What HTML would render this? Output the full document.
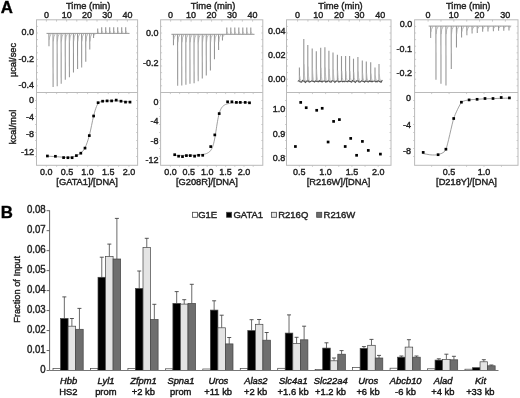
<!DOCTYPE html>
<html><head><meta charset="utf-8"><style>
html,body{margin:0;padding:0;background:#fff;}
svg{display:block;font-family:"Liberation Sans", sans-serif;filter:blur(0.3px);}
text{stroke:#222;stroke-width:0.4px;paint-order:stroke;}
</style></head><body>
<svg width="520" height="398" viewBox="0 0 520 398">
<rect width="520" height="398" fill="#fff"/>
<text transform="translate(0.80,13.30) scale(1,1.03)" font-size="16.8" text-anchor="start" font-weight="bold" font-style="normal" fill="#000" >A</text>
<rect x="36.50" y="19.80" width="101.10" height="145.50" fill="none" stroke="#bababa" stroke-width="1"/>
<line x1="36.50" y1="92.50" x2="137.60" y2="92.50" stroke="#bababa" stroke-width="1"/>
<line x1="46.40" y1="19.80" x2="46.40" y2="21.60" stroke="#bababa" stroke-width="0.8"/>
<line x1="56.52" y1="19.80" x2="56.52" y2="21.60" stroke="#bababa" stroke-width="0.8"/>
<line x1="66.65" y1="19.80" x2="66.65" y2="21.60" stroke="#bababa" stroke-width="0.8"/>
<line x1="76.78" y1="19.80" x2="76.78" y2="21.60" stroke="#bababa" stroke-width="0.8"/>
<line x1="86.90" y1="19.80" x2="86.90" y2="21.60" stroke="#bababa" stroke-width="0.8"/>
<line x1="97.03" y1="19.80" x2="97.03" y2="21.60" stroke="#bababa" stroke-width="0.8"/>
<line x1="107.15" y1="19.80" x2="107.15" y2="21.60" stroke="#bababa" stroke-width="0.8"/>
<line x1="117.28" y1="19.80" x2="117.28" y2="21.60" stroke="#bababa" stroke-width="0.8"/>
<line x1="127.40" y1="19.80" x2="127.40" y2="21.60" stroke="#bababa" stroke-width="0.8"/>
<text transform="translate(46.40,18.10) scale(1,1.05)" font-size="9.0" text-anchor="middle" font-weight="normal" font-style="normal" fill="#222" >0</text>
<text transform="translate(66.65,18.10) scale(1,1.05)" font-size="9.0" text-anchor="middle" font-weight="normal" font-style="normal" fill="#222" >10</text>
<text transform="translate(86.90,18.10) scale(1,1.05)" font-size="9.0" text-anchor="middle" font-weight="normal" font-style="normal" fill="#222" >20</text>
<text transform="translate(107.15,18.10) scale(1,1.05)" font-size="9.0" text-anchor="middle" font-weight="normal" font-style="normal" fill="#222" >30</text>
<text transform="translate(127.40,18.10) scale(1,1.05)" font-size="9.0" text-anchor="middle" font-weight="normal" font-style="normal" fill="#222" >40</text>
<text transform="translate(88.20,8.50) scale(1,1.05)" font-size="9.4" text-anchor="middle" font-weight="normal" font-style="normal" fill="#222" >Time (min)</text>
<line x1="36.50" y1="26.40" x2="38.00" y2="26.40" stroke="#bababa" stroke-width="0.7"/>
<line x1="136.10" y1="26.40" x2="137.60" y2="26.40" stroke="#bababa" stroke-width="0.7"/>
<line x1="36.50" y1="33.00" x2="38.00" y2="33.00" stroke="#bababa" stroke-width="0.7"/>
<line x1="136.10" y1="33.00" x2="137.60" y2="33.00" stroke="#bababa" stroke-width="0.7"/>
<line x1="36.50" y1="39.60" x2="38.00" y2="39.60" stroke="#bababa" stroke-width="0.7"/>
<line x1="136.10" y1="39.60" x2="137.60" y2="39.60" stroke="#bababa" stroke-width="0.7"/>
<line x1="36.50" y1="46.20" x2="38.00" y2="46.20" stroke="#bababa" stroke-width="0.7"/>
<line x1="136.10" y1="46.20" x2="137.60" y2="46.20" stroke="#bababa" stroke-width="0.7"/>
<line x1="36.50" y1="52.80" x2="38.00" y2="52.80" stroke="#bababa" stroke-width="0.7"/>
<line x1="136.10" y1="52.80" x2="137.60" y2="52.80" stroke="#bababa" stroke-width="0.7"/>
<line x1="36.50" y1="59.40" x2="38.00" y2="59.40" stroke="#bababa" stroke-width="0.7"/>
<line x1="136.10" y1="59.40" x2="137.60" y2="59.40" stroke="#bababa" stroke-width="0.7"/>
<line x1="36.50" y1="66.00" x2="38.00" y2="66.00" stroke="#bababa" stroke-width="0.7"/>
<line x1="136.10" y1="66.00" x2="137.60" y2="66.00" stroke="#bababa" stroke-width="0.7"/>
<line x1="36.50" y1="72.60" x2="38.00" y2="72.60" stroke="#bababa" stroke-width="0.7"/>
<line x1="136.10" y1="72.60" x2="137.60" y2="72.60" stroke="#bababa" stroke-width="0.7"/>
<line x1="36.50" y1="79.20" x2="38.00" y2="79.20" stroke="#bababa" stroke-width="0.7"/>
<line x1="136.10" y1="79.20" x2="137.60" y2="79.20" stroke="#bababa" stroke-width="0.7"/>
<line x1="36.50" y1="85.80" x2="38.00" y2="85.80" stroke="#bababa" stroke-width="0.7"/>
<line x1="136.10" y1="85.80" x2="137.60" y2="85.80" stroke="#bababa" stroke-width="0.7"/>
<line x1="35.00" y1="100.50" x2="36.50" y2="100.50" stroke="#bababa" stroke-width="0.7"/>
<line x1="136.10" y1="100.50" x2="137.60" y2="100.50" stroke="#bababa" stroke-width="0.7"/>
<line x1="35.00" y1="108.50" x2="36.50" y2="108.50" stroke="#bababa" stroke-width="0.7"/>
<line x1="136.10" y1="108.50" x2="137.60" y2="108.50" stroke="#bababa" stroke-width="0.7"/>
<line x1="35.00" y1="116.50" x2="36.50" y2="116.50" stroke="#bababa" stroke-width="0.7"/>
<line x1="136.10" y1="116.50" x2="137.60" y2="116.50" stroke="#bababa" stroke-width="0.7"/>
<line x1="35.00" y1="124.50" x2="36.50" y2="124.50" stroke="#bababa" stroke-width="0.7"/>
<line x1="136.10" y1="124.50" x2="137.60" y2="124.50" stroke="#bababa" stroke-width="0.7"/>
<line x1="35.00" y1="132.50" x2="36.50" y2="132.50" stroke="#bababa" stroke-width="0.7"/>
<line x1="136.10" y1="132.50" x2="137.60" y2="132.50" stroke="#bababa" stroke-width="0.7"/>
<line x1="35.00" y1="140.50" x2="36.50" y2="140.50" stroke="#bababa" stroke-width="0.7"/>
<line x1="136.10" y1="140.50" x2="137.60" y2="140.50" stroke="#bababa" stroke-width="0.7"/>
<line x1="35.00" y1="148.50" x2="36.50" y2="148.50" stroke="#bababa" stroke-width="0.7"/>
<line x1="136.10" y1="148.50" x2="137.60" y2="148.50" stroke="#bababa" stroke-width="0.7"/>
<line x1="35.00" y1="156.50" x2="36.50" y2="156.50" stroke="#bababa" stroke-width="0.7"/>
<line x1="136.10" y1="156.50" x2="137.60" y2="156.50" stroke="#bababa" stroke-width="0.7"/>
<rect x="160.60" y="19.80" width="102.20" height="145.50" fill="none" stroke="#bababa" stroke-width="1"/>
<line x1="160.60" y1="92.50" x2="262.80" y2="92.50" stroke="#bababa" stroke-width="1"/>
<line x1="170.60" y1="19.80" x2="170.60" y2="21.60" stroke="#bababa" stroke-width="0.8"/>
<line x1="180.85" y1="19.80" x2="180.85" y2="21.60" stroke="#bababa" stroke-width="0.8"/>
<line x1="191.10" y1="19.80" x2="191.10" y2="21.60" stroke="#bababa" stroke-width="0.8"/>
<line x1="201.35" y1="19.80" x2="201.35" y2="21.60" stroke="#bababa" stroke-width="0.8"/>
<line x1="211.60" y1="19.80" x2="211.60" y2="21.60" stroke="#bababa" stroke-width="0.8"/>
<line x1="221.85" y1="19.80" x2="221.85" y2="21.60" stroke="#bababa" stroke-width="0.8"/>
<line x1="232.10" y1="19.80" x2="232.10" y2="21.60" stroke="#bababa" stroke-width="0.8"/>
<line x1="242.35" y1="19.80" x2="242.35" y2="21.60" stroke="#bababa" stroke-width="0.8"/>
<line x1="252.60" y1="19.80" x2="252.60" y2="21.60" stroke="#bababa" stroke-width="0.8"/>
<text transform="translate(170.60,18.10) scale(1,1.05)" font-size="9.0" text-anchor="middle" font-weight="normal" font-style="normal" fill="#222" >0</text>
<text transform="translate(191.10,18.10) scale(1,1.05)" font-size="9.0" text-anchor="middle" font-weight="normal" font-style="normal" fill="#222" >10</text>
<text transform="translate(211.60,18.10) scale(1,1.05)" font-size="9.0" text-anchor="middle" font-weight="normal" font-style="normal" fill="#222" >20</text>
<text transform="translate(232.10,18.10) scale(1,1.05)" font-size="9.0" text-anchor="middle" font-weight="normal" font-style="normal" fill="#222" >30</text>
<text transform="translate(252.60,18.10) scale(1,1.05)" font-size="9.0" text-anchor="middle" font-weight="normal" font-style="normal" fill="#222" >40</text>
<text transform="translate(213.10,8.50) scale(1,1.05)" font-size="9.4" text-anchor="middle" font-weight="normal" font-style="normal" fill="#222" >Time (min)</text>
<line x1="160.60" y1="26.40" x2="162.10" y2="26.40" stroke="#bababa" stroke-width="0.7"/>
<line x1="261.30" y1="26.40" x2="262.80" y2="26.40" stroke="#bababa" stroke-width="0.7"/>
<line x1="160.60" y1="33.00" x2="162.10" y2="33.00" stroke="#bababa" stroke-width="0.7"/>
<line x1="261.30" y1="33.00" x2="262.80" y2="33.00" stroke="#bababa" stroke-width="0.7"/>
<line x1="160.60" y1="39.60" x2="162.10" y2="39.60" stroke="#bababa" stroke-width="0.7"/>
<line x1="261.30" y1="39.60" x2="262.80" y2="39.60" stroke="#bababa" stroke-width="0.7"/>
<line x1="160.60" y1="46.20" x2="162.10" y2="46.20" stroke="#bababa" stroke-width="0.7"/>
<line x1="261.30" y1="46.20" x2="262.80" y2="46.20" stroke="#bababa" stroke-width="0.7"/>
<line x1="160.60" y1="52.80" x2="162.10" y2="52.80" stroke="#bababa" stroke-width="0.7"/>
<line x1="261.30" y1="52.80" x2="262.80" y2="52.80" stroke="#bababa" stroke-width="0.7"/>
<line x1="160.60" y1="59.40" x2="162.10" y2="59.40" stroke="#bababa" stroke-width="0.7"/>
<line x1="261.30" y1="59.40" x2="262.80" y2="59.40" stroke="#bababa" stroke-width="0.7"/>
<line x1="160.60" y1="66.00" x2="162.10" y2="66.00" stroke="#bababa" stroke-width="0.7"/>
<line x1="261.30" y1="66.00" x2="262.80" y2="66.00" stroke="#bababa" stroke-width="0.7"/>
<line x1="160.60" y1="72.60" x2="162.10" y2="72.60" stroke="#bababa" stroke-width="0.7"/>
<line x1="261.30" y1="72.60" x2="262.80" y2="72.60" stroke="#bababa" stroke-width="0.7"/>
<line x1="160.60" y1="79.20" x2="162.10" y2="79.20" stroke="#bababa" stroke-width="0.7"/>
<line x1="261.30" y1="79.20" x2="262.80" y2="79.20" stroke="#bababa" stroke-width="0.7"/>
<line x1="160.60" y1="85.80" x2="162.10" y2="85.80" stroke="#bababa" stroke-width="0.7"/>
<line x1="261.30" y1="85.80" x2="262.80" y2="85.80" stroke="#bababa" stroke-width="0.7"/>
<line x1="159.10" y1="100.50" x2="160.60" y2="100.50" stroke="#bababa" stroke-width="0.7"/>
<line x1="261.30" y1="100.50" x2="262.80" y2="100.50" stroke="#bababa" stroke-width="0.7"/>
<line x1="159.10" y1="108.50" x2="160.60" y2="108.50" stroke="#bababa" stroke-width="0.7"/>
<line x1="261.30" y1="108.50" x2="262.80" y2="108.50" stroke="#bababa" stroke-width="0.7"/>
<line x1="159.10" y1="116.50" x2="160.60" y2="116.50" stroke="#bababa" stroke-width="0.7"/>
<line x1="261.30" y1="116.50" x2="262.80" y2="116.50" stroke="#bababa" stroke-width="0.7"/>
<line x1="159.10" y1="124.50" x2="160.60" y2="124.50" stroke="#bababa" stroke-width="0.7"/>
<line x1="261.30" y1="124.50" x2="262.80" y2="124.50" stroke="#bababa" stroke-width="0.7"/>
<line x1="159.10" y1="132.50" x2="160.60" y2="132.50" stroke="#bababa" stroke-width="0.7"/>
<line x1="261.30" y1="132.50" x2="262.80" y2="132.50" stroke="#bababa" stroke-width="0.7"/>
<line x1="159.10" y1="140.50" x2="160.60" y2="140.50" stroke="#bababa" stroke-width="0.7"/>
<line x1="261.30" y1="140.50" x2="262.80" y2="140.50" stroke="#bababa" stroke-width="0.7"/>
<line x1="159.10" y1="148.50" x2="160.60" y2="148.50" stroke="#bababa" stroke-width="0.7"/>
<line x1="261.30" y1="148.50" x2="262.80" y2="148.50" stroke="#bababa" stroke-width="0.7"/>
<line x1="159.10" y1="156.50" x2="160.60" y2="156.50" stroke="#bababa" stroke-width="0.7"/>
<line x1="261.30" y1="156.50" x2="262.80" y2="156.50" stroke="#bababa" stroke-width="0.7"/>
<rect x="286.50" y="19.80" width="104.50" height="145.50" fill="none" stroke="#bababa" stroke-width="1"/>
<line x1="286.50" y1="92.50" x2="391.00" y2="92.50" stroke="#bababa" stroke-width="1"/>
<line x1="297.60" y1="19.80" x2="297.60" y2="21.60" stroke="#bababa" stroke-width="0.8"/>
<line x1="307.93" y1="19.80" x2="307.93" y2="21.60" stroke="#bababa" stroke-width="0.8"/>
<line x1="318.25" y1="19.80" x2="318.25" y2="21.60" stroke="#bababa" stroke-width="0.8"/>
<line x1="328.58" y1="19.80" x2="328.58" y2="21.60" stroke="#bababa" stroke-width="0.8"/>
<line x1="338.90" y1="19.80" x2="338.90" y2="21.60" stroke="#bababa" stroke-width="0.8"/>
<line x1="349.23" y1="19.80" x2="349.23" y2="21.60" stroke="#bababa" stroke-width="0.8"/>
<line x1="359.55" y1="19.80" x2="359.55" y2="21.60" stroke="#bababa" stroke-width="0.8"/>
<line x1="369.88" y1="19.80" x2="369.88" y2="21.60" stroke="#bababa" stroke-width="0.8"/>
<line x1="380.20" y1="19.80" x2="380.20" y2="21.60" stroke="#bababa" stroke-width="0.8"/>
<text transform="translate(297.60,18.10) scale(1,1.05)" font-size="9.0" text-anchor="middle" font-weight="normal" font-style="normal" fill="#222" >0</text>
<text transform="translate(318.25,18.10) scale(1,1.05)" font-size="9.0" text-anchor="middle" font-weight="normal" font-style="normal" fill="#222" >10</text>
<text transform="translate(338.90,18.10) scale(1,1.05)" font-size="9.0" text-anchor="middle" font-weight="normal" font-style="normal" fill="#222" >20</text>
<text transform="translate(359.55,18.10) scale(1,1.05)" font-size="9.0" text-anchor="middle" font-weight="normal" font-style="normal" fill="#222" >30</text>
<text transform="translate(380.20,18.10) scale(1,1.05)" font-size="9.0" text-anchor="middle" font-weight="normal" font-style="normal" fill="#222" >40</text>
<text transform="translate(340.50,8.50) scale(1,1.05)" font-size="9.4" text-anchor="middle" font-weight="normal" font-style="normal" fill="#222" >Time (min)</text>
<line x1="286.50" y1="26.40" x2="288.00" y2="26.40" stroke="#bababa" stroke-width="0.7"/>
<line x1="389.50" y1="26.40" x2="391.00" y2="26.40" stroke="#bababa" stroke-width="0.7"/>
<line x1="286.50" y1="33.00" x2="288.00" y2="33.00" stroke="#bababa" stroke-width="0.7"/>
<line x1="389.50" y1="33.00" x2="391.00" y2="33.00" stroke="#bababa" stroke-width="0.7"/>
<line x1="286.50" y1="39.60" x2="288.00" y2="39.60" stroke="#bababa" stroke-width="0.7"/>
<line x1="389.50" y1="39.60" x2="391.00" y2="39.60" stroke="#bababa" stroke-width="0.7"/>
<line x1="286.50" y1="46.20" x2="288.00" y2="46.20" stroke="#bababa" stroke-width="0.7"/>
<line x1="389.50" y1="46.20" x2="391.00" y2="46.20" stroke="#bababa" stroke-width="0.7"/>
<line x1="286.50" y1="52.80" x2="288.00" y2="52.80" stroke="#bababa" stroke-width="0.7"/>
<line x1="389.50" y1="52.80" x2="391.00" y2="52.80" stroke="#bababa" stroke-width="0.7"/>
<line x1="286.50" y1="59.40" x2="288.00" y2="59.40" stroke="#bababa" stroke-width="0.7"/>
<line x1="389.50" y1="59.40" x2="391.00" y2="59.40" stroke="#bababa" stroke-width="0.7"/>
<line x1="286.50" y1="66.00" x2="288.00" y2="66.00" stroke="#bababa" stroke-width="0.7"/>
<line x1="389.50" y1="66.00" x2="391.00" y2="66.00" stroke="#bababa" stroke-width="0.7"/>
<line x1="286.50" y1="72.60" x2="288.00" y2="72.60" stroke="#bababa" stroke-width="0.7"/>
<line x1="389.50" y1="72.60" x2="391.00" y2="72.60" stroke="#bababa" stroke-width="0.7"/>
<line x1="286.50" y1="79.20" x2="288.00" y2="79.20" stroke="#bababa" stroke-width="0.7"/>
<line x1="389.50" y1="79.20" x2="391.00" y2="79.20" stroke="#bababa" stroke-width="0.7"/>
<line x1="286.50" y1="85.80" x2="288.00" y2="85.80" stroke="#bababa" stroke-width="0.7"/>
<line x1="389.50" y1="85.80" x2="391.00" y2="85.80" stroke="#bababa" stroke-width="0.7"/>
<line x1="285.00" y1="100.50" x2="286.50" y2="100.50" stroke="#bababa" stroke-width="0.7"/>
<line x1="389.50" y1="100.50" x2="391.00" y2="100.50" stroke="#bababa" stroke-width="0.7"/>
<line x1="285.00" y1="108.50" x2="286.50" y2="108.50" stroke="#bababa" stroke-width="0.7"/>
<line x1="389.50" y1="108.50" x2="391.00" y2="108.50" stroke="#bababa" stroke-width="0.7"/>
<line x1="285.00" y1="116.50" x2="286.50" y2="116.50" stroke="#bababa" stroke-width="0.7"/>
<line x1="389.50" y1="116.50" x2="391.00" y2="116.50" stroke="#bababa" stroke-width="0.7"/>
<line x1="285.00" y1="124.50" x2="286.50" y2="124.50" stroke="#bababa" stroke-width="0.7"/>
<line x1="389.50" y1="124.50" x2="391.00" y2="124.50" stroke="#bababa" stroke-width="0.7"/>
<line x1="285.00" y1="132.50" x2="286.50" y2="132.50" stroke="#bababa" stroke-width="0.7"/>
<line x1="389.50" y1="132.50" x2="391.00" y2="132.50" stroke="#bababa" stroke-width="0.7"/>
<line x1="285.00" y1="140.50" x2="286.50" y2="140.50" stroke="#bababa" stroke-width="0.7"/>
<line x1="389.50" y1="140.50" x2="391.00" y2="140.50" stroke="#bababa" stroke-width="0.7"/>
<line x1="285.00" y1="148.50" x2="286.50" y2="148.50" stroke="#bababa" stroke-width="0.7"/>
<line x1="389.50" y1="148.50" x2="391.00" y2="148.50" stroke="#bababa" stroke-width="0.7"/>
<line x1="285.00" y1="156.50" x2="286.50" y2="156.50" stroke="#bababa" stroke-width="0.7"/>
<line x1="389.50" y1="156.50" x2="391.00" y2="156.50" stroke="#bababa" stroke-width="0.7"/>
<rect x="414.60" y="19.80" width="103.40" height="145.50" fill="none" stroke="#bababa" stroke-width="1"/>
<line x1="414.60" y1="92.50" x2="518.00" y2="92.50" stroke="#bababa" stroke-width="1"/>
<line x1="428.10" y1="19.80" x2="428.10" y2="21.60" stroke="#bababa" stroke-width="0.8"/>
<line x1="440.98" y1="19.80" x2="440.98" y2="21.60" stroke="#bababa" stroke-width="0.8"/>
<line x1="453.85" y1="19.80" x2="453.85" y2="21.60" stroke="#bababa" stroke-width="0.8"/>
<line x1="466.73" y1="19.80" x2="466.73" y2="21.60" stroke="#bababa" stroke-width="0.8"/>
<line x1="479.60" y1="19.80" x2="479.60" y2="21.60" stroke="#bababa" stroke-width="0.8"/>
<line x1="492.48" y1="19.80" x2="492.48" y2="21.60" stroke="#bababa" stroke-width="0.8"/>
<line x1="505.35" y1="19.80" x2="505.35" y2="21.60" stroke="#bababa" stroke-width="0.8"/>
<text transform="translate(428.10,18.10) scale(1,1.05)" font-size="9.0" text-anchor="middle" font-weight="normal" font-style="normal" fill="#222" >0</text>
<text transform="translate(453.85,18.10) scale(1,1.05)" font-size="9.0" text-anchor="middle" font-weight="normal" font-style="normal" fill="#222" >10</text>
<text transform="translate(479.60,18.10) scale(1,1.05)" font-size="9.0" text-anchor="middle" font-weight="normal" font-style="normal" fill="#222" >20</text>
<text transform="translate(505.35,18.10) scale(1,1.05)" font-size="9.0" text-anchor="middle" font-weight="normal" font-style="normal" fill="#222" >30</text>
<text transform="translate(468.23,8.50) scale(1,1.05)" font-size="9.4" text-anchor="middle" font-weight="normal" font-style="normal" fill="#222" >Time (min)</text>
<line x1="414.60" y1="26.40" x2="416.10" y2="26.40" stroke="#bababa" stroke-width="0.7"/>
<line x1="516.50" y1="26.40" x2="518.00" y2="26.40" stroke="#bababa" stroke-width="0.7"/>
<line x1="414.60" y1="33.00" x2="416.10" y2="33.00" stroke="#bababa" stroke-width="0.7"/>
<line x1="516.50" y1="33.00" x2="518.00" y2="33.00" stroke="#bababa" stroke-width="0.7"/>
<line x1="414.60" y1="39.60" x2="416.10" y2="39.60" stroke="#bababa" stroke-width="0.7"/>
<line x1="516.50" y1="39.60" x2="518.00" y2="39.60" stroke="#bababa" stroke-width="0.7"/>
<line x1="414.60" y1="46.20" x2="416.10" y2="46.20" stroke="#bababa" stroke-width="0.7"/>
<line x1="516.50" y1="46.20" x2="518.00" y2="46.20" stroke="#bababa" stroke-width="0.7"/>
<line x1="414.60" y1="52.80" x2="416.10" y2="52.80" stroke="#bababa" stroke-width="0.7"/>
<line x1="516.50" y1="52.80" x2="518.00" y2="52.80" stroke="#bababa" stroke-width="0.7"/>
<line x1="414.60" y1="59.40" x2="416.10" y2="59.40" stroke="#bababa" stroke-width="0.7"/>
<line x1="516.50" y1="59.40" x2="518.00" y2="59.40" stroke="#bababa" stroke-width="0.7"/>
<line x1="414.60" y1="66.00" x2="416.10" y2="66.00" stroke="#bababa" stroke-width="0.7"/>
<line x1="516.50" y1="66.00" x2="518.00" y2="66.00" stroke="#bababa" stroke-width="0.7"/>
<line x1="414.60" y1="72.60" x2="416.10" y2="72.60" stroke="#bababa" stroke-width="0.7"/>
<line x1="516.50" y1="72.60" x2="518.00" y2="72.60" stroke="#bababa" stroke-width="0.7"/>
<line x1="414.60" y1="79.20" x2="416.10" y2="79.20" stroke="#bababa" stroke-width="0.7"/>
<line x1="516.50" y1="79.20" x2="518.00" y2="79.20" stroke="#bababa" stroke-width="0.7"/>
<line x1="414.60" y1="85.80" x2="416.10" y2="85.80" stroke="#bababa" stroke-width="0.7"/>
<line x1="516.50" y1="85.80" x2="518.00" y2="85.80" stroke="#bababa" stroke-width="0.7"/>
<line x1="413.10" y1="100.50" x2="414.60" y2="100.50" stroke="#bababa" stroke-width="0.7"/>
<line x1="516.50" y1="100.50" x2="518.00" y2="100.50" stroke="#bababa" stroke-width="0.7"/>
<line x1="413.10" y1="108.50" x2="414.60" y2="108.50" stroke="#bababa" stroke-width="0.7"/>
<line x1="516.50" y1="108.50" x2="518.00" y2="108.50" stroke="#bababa" stroke-width="0.7"/>
<line x1="413.10" y1="116.50" x2="414.60" y2="116.50" stroke="#bababa" stroke-width="0.7"/>
<line x1="516.50" y1="116.50" x2="518.00" y2="116.50" stroke="#bababa" stroke-width="0.7"/>
<line x1="413.10" y1="124.50" x2="414.60" y2="124.50" stroke="#bababa" stroke-width="0.7"/>
<line x1="516.50" y1="124.50" x2="518.00" y2="124.50" stroke="#bababa" stroke-width="0.7"/>
<line x1="413.10" y1="132.50" x2="414.60" y2="132.50" stroke="#bababa" stroke-width="0.7"/>
<line x1="516.50" y1="132.50" x2="518.00" y2="132.50" stroke="#bababa" stroke-width="0.7"/>
<line x1="413.10" y1="140.50" x2="414.60" y2="140.50" stroke="#bababa" stroke-width="0.7"/>
<line x1="516.50" y1="140.50" x2="518.00" y2="140.50" stroke="#bababa" stroke-width="0.7"/>
<line x1="413.10" y1="148.50" x2="414.60" y2="148.50" stroke="#bababa" stroke-width="0.7"/>
<line x1="516.50" y1="148.50" x2="518.00" y2="148.50" stroke="#bababa" stroke-width="0.7"/>
<line x1="413.10" y1="156.50" x2="414.60" y2="156.50" stroke="#bababa" stroke-width="0.7"/>
<line x1="516.50" y1="156.50" x2="518.00" y2="156.50" stroke="#bababa" stroke-width="0.7"/>
<text transform="translate(34.00,35.10) scale(1,1.05)" font-size="9.0" text-anchor="end" font-weight="normal" font-style="normal" fill="#222" >0.0</text>
<text transform="translate(34.00,61.50) scale(1,1.05)" font-size="9.0" text-anchor="end" font-weight="normal" font-style="normal" fill="#222" >-0.2</text>
<text transform="translate(34.00,87.50) scale(1,1.05)" font-size="9.0" text-anchor="end" font-weight="normal" font-style="normal" fill="#222" >-0.4</text>
<text transform="translate(34.00,102.70) scale(1,1.05)" font-size="9.0" text-anchor="end" font-weight="normal" font-style="normal" fill="#222" >0</text>
<text transform="translate(34.00,119.70) scale(1,1.05)" font-size="9.0" text-anchor="end" font-weight="normal" font-style="normal" fill="#222" >-4</text>
<text transform="translate(34.00,137.30) scale(1,1.05)" font-size="9.0" text-anchor="end" font-weight="normal" font-style="normal" fill="#222" >-8</text>
<text transform="translate(34.00,154.50) scale(1,1.05)" font-size="9.0" text-anchor="end" font-weight="normal" font-style="normal" fill="#222" >-12</text>
<text transform="translate(158.40,35.50) scale(1,1.05)" font-size="9.0" text-anchor="end" font-weight="normal" font-style="normal" fill="#222" >0.0</text>
<text transform="translate(158.40,65.70) scale(1,1.05)" font-size="9.0" text-anchor="end" font-weight="normal" font-style="normal" fill="#222" >-0.2</text>
<text transform="translate(158.40,104.80) scale(1,1.05)" font-size="9.0" text-anchor="end" font-weight="normal" font-style="normal" fill="#222" >0</text>
<text transform="translate(158.40,124.40) scale(1,1.05)" font-size="9.0" text-anchor="end" font-weight="normal" font-style="normal" fill="#222" >-4</text>
<text transform="translate(158.40,143.70) scale(1,1.05)" font-size="9.0" text-anchor="end" font-weight="normal" font-style="normal" fill="#222" >-8</text>
<text transform="translate(158.40,162.60) scale(1,1.05)" font-size="9.0" text-anchor="end" font-weight="normal" font-style="normal" fill="#222" >-12</text>
<text transform="translate(285.50,34.00) scale(1,1.05)" font-size="9.0" text-anchor="end" font-weight="normal" font-style="normal" fill="#222" >0.04</text>
<text transform="translate(285.50,58.00) scale(1,1.05)" font-size="9.0" text-anchor="end" font-weight="normal" font-style="normal" fill="#222" >0.02</text>
<text transform="translate(285.50,82.20) scale(1,1.05)" font-size="9.0" text-anchor="end" font-weight="normal" font-style="normal" fill="#222" >0.00</text>
<text transform="translate(285.30,112.00) scale(1,1.05)" font-size="9.0" text-anchor="end" font-weight="normal" font-style="normal" fill="#222" >1.0</text>
<text transform="translate(285.30,137.10) scale(1,1.05)" font-size="9.0" text-anchor="end" font-weight="normal" font-style="normal" fill="#222" >0.9</text>
<text transform="translate(285.30,160.90) scale(1,1.05)" font-size="9.0" text-anchor="end" font-weight="normal" font-style="normal" fill="#222" >0.8</text>
<text transform="translate(412.30,27.10) scale(1,1.05)" font-size="9.0" text-anchor="end" font-weight="normal" font-style="normal" fill="#222" >0.0</text>
<text transform="translate(412.00,52.20) scale(1,1.05)" font-size="9.0" text-anchor="end" font-weight="normal" font-style="normal" fill="#222" >-0.1</text>
<text transform="translate(412.00,76.00) scale(1,1.05)" font-size="9.0" text-anchor="end" font-weight="normal" font-style="normal" fill="#222" >-0.2</text>
<text transform="translate(411.10,100.70) scale(1,1.05)" font-size="9.0" text-anchor="end" font-weight="normal" font-style="normal" fill="#222" >0</text>
<text transform="translate(411.10,128.10) scale(1,1.05)" font-size="9.0" text-anchor="end" font-weight="normal" font-style="normal" fill="#222" >-4</text>
<text transform="translate(411.10,154.20) scale(1,1.05)" font-size="9.0" text-anchor="end" font-weight="normal" font-style="normal" fill="#222" >-8</text>
<text transform="translate(16.0,60.0) rotate(-90)" font-size="9.3" text-anchor="middle" fill="#222">µcal/sec</text>
<text transform="translate(16.0,127.0) rotate(-90)" font-size="9.5" text-anchor="middle" fill="#222">kcal/mol</text>
<text transform="translate(46.30,175.40) scale(1,1.05)" font-size="9.0" text-anchor="middle" font-weight="normal" font-style="normal" fill="#222" >0.0</text>
<text transform="translate(66.95,175.40) scale(1,1.05)" font-size="9.0" text-anchor="middle" font-weight="normal" font-style="normal" fill="#222" >0.5</text>
<text transform="translate(87.60,175.40) scale(1,1.05)" font-size="9.0" text-anchor="middle" font-weight="normal" font-style="normal" fill="#222" >1.0</text>
<text transform="translate(108.25,175.40) scale(1,1.05)" font-size="9.0" text-anchor="middle" font-weight="normal" font-style="normal" fill="#222" >1.5</text>
<text transform="translate(128.90,175.40) scale(1,1.05)" font-size="9.0" text-anchor="middle" font-weight="normal" font-style="normal" fill="#222" >2.0</text>
<text transform="translate(170.40,175.40) scale(1,1.05)" font-size="9.0" text-anchor="middle" font-weight="normal" font-style="normal" fill="#222" >0.0</text>
<text transform="translate(188.80,175.40) scale(1,1.05)" font-size="9.0" text-anchor="middle" font-weight="normal" font-style="normal" fill="#222" >0.5</text>
<text transform="translate(207.20,175.40) scale(1,1.05)" font-size="9.0" text-anchor="middle" font-weight="normal" font-style="normal" fill="#222" >1.0</text>
<text transform="translate(225.60,175.40) scale(1,1.05)" font-size="9.0" text-anchor="middle" font-weight="normal" font-style="normal" fill="#222" >1.5</text>
<text transform="translate(244.00,175.40) scale(1,1.05)" font-size="9.0" text-anchor="middle" font-weight="normal" font-style="normal" fill="#222" >2.0</text>
<text transform="translate(299.30,175.40) scale(1,1.05)" font-size="9.0" text-anchor="middle" font-weight="normal" font-style="normal" fill="#222" >0.5</text>
<text transform="translate(325.60,175.40) scale(1,1.05)" font-size="9.0" text-anchor="middle" font-weight="normal" font-style="normal" fill="#222" >1.0</text>
<text transform="translate(351.90,175.40) scale(1,1.05)" font-size="9.0" text-anchor="middle" font-weight="normal" font-style="normal" fill="#222" >1.5</text>
<text transform="translate(378.20,175.40) scale(1,1.05)" font-size="9.0" text-anchor="middle" font-weight="normal" font-style="normal" fill="#222" >2.0</text>
<text transform="translate(449.10,175.40) scale(1,1.05)" font-size="9.0" text-anchor="middle" font-weight="normal" font-style="normal" fill="#222" >0.5</text>
<text transform="translate(484.00,175.40) scale(1,1.05)" font-size="9.0" text-anchor="middle" font-weight="normal" font-style="normal" fill="#222" >1.0</text>
<line x1="46.30" y1="165.30" x2="46.30" y2="166.90" stroke="#bababa" stroke-width="0.7"/>
<line x1="46.30" y1="92.50" x2="46.30" y2="94.10" stroke="#bababa" stroke-width="0.7"/>
<line x1="56.62" y1="165.30" x2="56.62" y2="166.90" stroke="#bababa" stroke-width="0.7"/>
<line x1="56.62" y1="92.50" x2="56.62" y2="94.10" stroke="#bababa" stroke-width="0.7"/>
<line x1="66.95" y1="165.30" x2="66.95" y2="166.90" stroke="#bababa" stroke-width="0.7"/>
<line x1="66.95" y1="92.50" x2="66.95" y2="94.10" stroke="#bababa" stroke-width="0.7"/>
<line x1="77.27" y1="165.30" x2="77.27" y2="166.90" stroke="#bababa" stroke-width="0.7"/>
<line x1="77.27" y1="92.50" x2="77.27" y2="94.10" stroke="#bababa" stroke-width="0.7"/>
<line x1="87.60" y1="165.30" x2="87.60" y2="166.90" stroke="#bababa" stroke-width="0.7"/>
<line x1="87.60" y1="92.50" x2="87.60" y2="94.10" stroke="#bababa" stroke-width="0.7"/>
<line x1="97.92" y1="165.30" x2="97.92" y2="166.90" stroke="#bababa" stroke-width="0.7"/>
<line x1="97.92" y1="92.50" x2="97.92" y2="94.10" stroke="#bababa" stroke-width="0.7"/>
<line x1="108.25" y1="165.30" x2="108.25" y2="166.90" stroke="#bababa" stroke-width="0.7"/>
<line x1="108.25" y1="92.50" x2="108.25" y2="94.10" stroke="#bababa" stroke-width="0.7"/>
<line x1="118.57" y1="165.30" x2="118.57" y2="166.90" stroke="#bababa" stroke-width="0.7"/>
<line x1="118.57" y1="92.50" x2="118.57" y2="94.10" stroke="#bababa" stroke-width="0.7"/>
<line x1="128.90" y1="165.30" x2="128.90" y2="166.90" stroke="#bababa" stroke-width="0.7"/>
<line x1="128.90" y1="92.50" x2="128.90" y2="94.10" stroke="#bababa" stroke-width="0.7"/>
<line x1="170.40" y1="165.30" x2="170.40" y2="166.90" stroke="#bababa" stroke-width="0.7"/>
<line x1="170.40" y1="92.50" x2="170.40" y2="94.10" stroke="#bababa" stroke-width="0.7"/>
<line x1="179.60" y1="165.30" x2="179.60" y2="166.90" stroke="#bababa" stroke-width="0.7"/>
<line x1="179.60" y1="92.50" x2="179.60" y2="94.10" stroke="#bababa" stroke-width="0.7"/>
<line x1="188.80" y1="165.30" x2="188.80" y2="166.90" stroke="#bababa" stroke-width="0.7"/>
<line x1="188.80" y1="92.50" x2="188.80" y2="94.10" stroke="#bababa" stroke-width="0.7"/>
<line x1="198.00" y1="165.30" x2="198.00" y2="166.90" stroke="#bababa" stroke-width="0.7"/>
<line x1="198.00" y1="92.50" x2="198.00" y2="94.10" stroke="#bababa" stroke-width="0.7"/>
<line x1="207.20" y1="165.30" x2="207.20" y2="166.90" stroke="#bababa" stroke-width="0.7"/>
<line x1="207.20" y1="92.50" x2="207.20" y2="94.10" stroke="#bababa" stroke-width="0.7"/>
<line x1="216.40" y1="165.30" x2="216.40" y2="166.90" stroke="#bababa" stroke-width="0.7"/>
<line x1="216.40" y1="92.50" x2="216.40" y2="94.10" stroke="#bababa" stroke-width="0.7"/>
<line x1="225.60" y1="165.30" x2="225.60" y2="166.90" stroke="#bababa" stroke-width="0.7"/>
<line x1="225.60" y1="92.50" x2="225.60" y2="94.10" stroke="#bababa" stroke-width="0.7"/>
<line x1="234.80" y1="165.30" x2="234.80" y2="166.90" stroke="#bababa" stroke-width="0.7"/>
<line x1="234.80" y1="92.50" x2="234.80" y2="94.10" stroke="#bababa" stroke-width="0.7"/>
<line x1="244.00" y1="165.30" x2="244.00" y2="166.90" stroke="#bababa" stroke-width="0.7"/>
<line x1="244.00" y1="92.50" x2="244.00" y2="94.10" stroke="#bababa" stroke-width="0.7"/>
<line x1="253.20" y1="165.30" x2="253.20" y2="166.90" stroke="#bababa" stroke-width="0.7"/>
<line x1="253.20" y1="92.50" x2="253.20" y2="94.10" stroke="#bababa" stroke-width="0.7"/>
<line x1="299.30" y1="165.30" x2="299.30" y2="166.90" stroke="#bababa" stroke-width="0.7"/>
<line x1="299.30" y1="92.50" x2="299.30" y2="94.10" stroke="#bababa" stroke-width="0.7"/>
<line x1="312.45" y1="165.30" x2="312.45" y2="166.90" stroke="#bababa" stroke-width="0.7"/>
<line x1="312.45" y1="92.50" x2="312.45" y2="94.10" stroke="#bababa" stroke-width="0.7"/>
<line x1="325.60" y1="165.30" x2="325.60" y2="166.90" stroke="#bababa" stroke-width="0.7"/>
<line x1="325.60" y1="92.50" x2="325.60" y2="94.10" stroke="#bababa" stroke-width="0.7"/>
<line x1="338.75" y1="165.30" x2="338.75" y2="166.90" stroke="#bababa" stroke-width="0.7"/>
<line x1="338.75" y1="92.50" x2="338.75" y2="94.10" stroke="#bababa" stroke-width="0.7"/>
<line x1="351.90" y1="165.30" x2="351.90" y2="166.90" stroke="#bababa" stroke-width="0.7"/>
<line x1="351.90" y1="92.50" x2="351.90" y2="94.10" stroke="#bababa" stroke-width="0.7"/>
<line x1="365.05" y1="165.30" x2="365.05" y2="166.90" stroke="#bababa" stroke-width="0.7"/>
<line x1="365.05" y1="92.50" x2="365.05" y2="94.10" stroke="#bababa" stroke-width="0.7"/>
<line x1="378.20" y1="165.30" x2="378.20" y2="166.90" stroke="#bababa" stroke-width="0.7"/>
<line x1="378.20" y1="92.50" x2="378.20" y2="94.10" stroke="#bababa" stroke-width="0.7"/>
<line x1="431.65" y1="165.30" x2="431.65" y2="166.90" stroke="#bababa" stroke-width="0.7"/>
<line x1="431.65" y1="92.50" x2="431.65" y2="94.10" stroke="#bababa" stroke-width="0.7"/>
<line x1="449.10" y1="165.30" x2="449.10" y2="166.90" stroke="#bababa" stroke-width="0.7"/>
<line x1="449.10" y1="92.50" x2="449.10" y2="94.10" stroke="#bababa" stroke-width="0.7"/>
<line x1="466.55" y1="165.30" x2="466.55" y2="166.90" stroke="#bababa" stroke-width="0.7"/>
<line x1="466.55" y1="92.50" x2="466.55" y2="94.10" stroke="#bababa" stroke-width="0.7"/>
<line x1="484.00" y1="165.30" x2="484.00" y2="166.90" stroke="#bababa" stroke-width="0.7"/>
<line x1="484.00" y1="92.50" x2="484.00" y2="94.10" stroke="#bababa" stroke-width="0.7"/>
<line x1="501.45" y1="165.30" x2="501.45" y2="166.90" stroke="#bababa" stroke-width="0.7"/>
<line x1="501.45" y1="92.50" x2="501.45" y2="94.10" stroke="#bababa" stroke-width="0.7"/>
<text transform="translate(87.10,185.00) scale(1,1.05)" font-size="9.3" text-anchor="middle" font-weight="normal" font-style="normal" fill="#222" >[GATA1]/[DNA]</text>
<text transform="translate(206.90,185.00) scale(1,1.05)" font-size="9.3" text-anchor="middle" font-weight="normal" font-style="normal" fill="#222" >[G208R]/[DNA]</text>
<text transform="translate(338.50,185.00) scale(1,1.05)" font-size="9.3" text-anchor="middle" font-weight="normal" font-style="normal" fill="#222" >[R216W]/[DNA]</text>
<text transform="translate(466.50,185.00) scale(1,1.05)" font-size="9.3" text-anchor="middle" font-weight="normal" font-style="normal" fill="#222" >[D218Y]/[DNA]</text>
<line x1="46.50" y1="33.40" x2="129.50" y2="33.40" stroke="#8a8a8a" stroke-width="0.9"/>
<path d="M48.90,33.40 L49.00,46.20" stroke="#959595" stroke-width="1.05"/>
<path d="M49.20,39.80 L49.70,36.90 L51.30,33.40" fill="none" stroke="#a8a8a8" stroke-width="0.8"/>
<path d="M53.00,33.40 L53.10,87.00" stroke="#959595" stroke-width="1.05"/>
<path d="M53.30,41.40 L53.80,36.90 L55.40,33.40" fill="none" stroke="#a8a8a8" stroke-width="0.8"/>
<path d="M57.10,33.40 L57.20,86.30" stroke="#959595" stroke-width="1.05"/>
<path d="M57.40,41.40 L57.90,36.90 L59.50,33.40" fill="none" stroke="#a8a8a8" stroke-width="0.8"/>
<path d="M61.10,33.40 L61.20,83.80" stroke="#959595" stroke-width="1.05"/>
<path d="M61.40,41.40 L61.90,36.90 L63.50,33.40" fill="none" stroke="#a8a8a8" stroke-width="0.8"/>
<path d="M65.20,33.40 L65.30,79.70" stroke="#959595" stroke-width="1.05"/>
<path d="M65.50,41.40 L66.00,36.90 L67.60,33.40" fill="none" stroke="#a8a8a8" stroke-width="0.8"/>
<path d="M69.30,33.40 L69.40,77.30" stroke="#959595" stroke-width="1.05"/>
<path d="M69.60,41.40 L70.10,36.90 L71.70,33.40" fill="none" stroke="#a8a8a8" stroke-width="0.8"/>
<path d="M73.40,33.40 L73.50,72.40" stroke="#959595" stroke-width="1.05"/>
<path d="M73.70,41.40 L74.20,36.90 L75.80,33.40" fill="none" stroke="#a8a8a8" stroke-width="0.8"/>
<path d="M77.50,33.40 L77.60,69.10" stroke="#959595" stroke-width="1.05"/>
<path d="M77.80,41.40 L78.30,36.90 L79.90,33.40" fill="none" stroke="#a8a8a8" stroke-width="0.8"/>
<path d="M81.60,33.40 L81.70,67.50" stroke="#959595" stroke-width="1.05"/>
<path d="M81.90,41.40 L82.40,36.90 L84.00,33.40" fill="none" stroke="#a8a8a8" stroke-width="0.8"/>
<path d="M85.70,33.40 L85.80,61.80" stroke="#959595" stroke-width="1.05"/>
<path d="M86.00,41.40 L86.50,36.90 L88.10,33.40" fill="none" stroke="#a8a8a8" stroke-width="0.8"/>
<path d="M89.70,33.40 L89.80,49.50" stroke="#959595" stroke-width="1.05"/>
<path d="M90.00,41.40 L90.50,36.90 L92.10,33.40" fill="none" stroke="#a8a8a8" stroke-width="0.8"/>
<path d="M93.50,33.40 L93.60,38.00" stroke="#959595" stroke-width="1.05"/>
<path d="M93.80,35.70 L94.30,34.78 L95.90,33.40" fill="none" stroke="#a8a8a8" stroke-width="0.8"/>
<path d="M97.70,33.40 L97.70,28.40" stroke="#959595" stroke-width="1.1"/>
<path d="M98.00,31.40 Q98.30,32.40 99.30,33.40" fill="none" stroke="#b4b4b4" stroke-width="0.8"/>
<path d="M101.70,33.40 L101.70,27.20" stroke="#959595" stroke-width="1.1"/>
<path d="M102.00,30.92 Q102.30,32.16 103.30,33.40" fill="none" stroke="#b4b4b4" stroke-width="0.8"/>
<path d="M105.70,33.40 L105.70,27.20" stroke="#959595" stroke-width="1.1"/>
<path d="M106.00,30.92 Q106.30,32.16 107.30,33.40" fill="none" stroke="#b4b4b4" stroke-width="0.8"/>
<path d="M109.70,33.40 L109.70,27.20" stroke="#959595" stroke-width="1.1"/>
<path d="M110.00,30.92 Q110.30,32.16 111.30,33.40" fill="none" stroke="#b4b4b4" stroke-width="0.8"/>
<path d="M113.70,33.40 L113.70,27.20" stroke="#959595" stroke-width="1.1"/>
<path d="M114.00,30.92 Q114.30,32.16 115.30,33.40" fill="none" stroke="#b4b4b4" stroke-width="0.8"/>
<path d="M117.70,33.40 L117.70,27.20" stroke="#959595" stroke-width="1.1"/>
<path d="M118.00,30.92 Q118.30,32.16 119.30,33.40" fill="none" stroke="#b4b4b4" stroke-width="0.8"/>
<path d="M121.70,33.40 L121.70,27.20" stroke="#959595" stroke-width="1.1"/>
<path d="M122.00,30.92 Q122.30,32.16 123.30,33.40" fill="none" stroke="#b4b4b4" stroke-width="0.8"/>
<path d="M125.70,33.40 L125.70,27.20" stroke="#959595" stroke-width="1.1"/>
<path d="M126.00,30.92 Q126.30,32.16 127.30,33.40" fill="none" stroke="#b4b4b4" stroke-width="0.8"/>
<line x1="171.40" y1="34.30" x2="254.50" y2="34.30" stroke="#8a8a8a" stroke-width="0.9"/>
<path d="M173.40,34.30 L173.50,45.20" stroke="#959595" stroke-width="1.05"/>
<path d="M173.70,39.75 L174.20,37.57 L175.80,34.30" fill="none" stroke="#a8a8a8" stroke-width="0.8"/>
<path d="M177.60,34.30 L177.70,85.80" stroke="#959595" stroke-width="1.05"/>
<path d="M177.90,42.30 L178.40,37.80 L180.00,34.30" fill="none" stroke="#a8a8a8" stroke-width="0.8"/>
<path d="M181.70,34.30 L181.80,85.50" stroke="#959595" stroke-width="1.05"/>
<path d="M182.00,42.30 L182.50,37.80 L184.10,34.30" fill="none" stroke="#a8a8a8" stroke-width="0.8"/>
<path d="M185.80,34.30 L185.90,84.80" stroke="#959595" stroke-width="1.05"/>
<path d="M186.10,42.30 L186.60,37.80 L188.20,34.30" fill="none" stroke="#a8a8a8" stroke-width="0.8"/>
<path d="M189.90,34.30 L190.00,83.80" stroke="#959595" stroke-width="1.05"/>
<path d="M190.20,42.30 L190.70,37.80 L192.30,34.30" fill="none" stroke="#a8a8a8" stroke-width="0.8"/>
<path d="M194.00,34.30 L194.10,83.20" stroke="#959595" stroke-width="1.05"/>
<path d="M194.30,42.30 L194.80,37.80 L196.40,34.30" fill="none" stroke="#a8a8a8" stroke-width="0.8"/>
<path d="M198.10,34.30 L198.20,81.20" stroke="#959595" stroke-width="1.05"/>
<path d="M198.40,42.30 L198.90,37.80 L200.50,34.30" fill="none" stroke="#a8a8a8" stroke-width="0.8"/>
<path d="M202.20,34.30 L202.30,78.40" stroke="#959595" stroke-width="1.05"/>
<path d="M202.50,42.30 L203.00,37.80 L204.60,34.30" fill="none" stroke="#a8a8a8" stroke-width="0.8"/>
<path d="M206.20,34.30 L206.30,75.50" stroke="#959595" stroke-width="1.05"/>
<path d="M206.50,42.30 L207.00,37.80 L208.60,34.30" fill="none" stroke="#a8a8a8" stroke-width="0.8"/>
<path d="M210.30,34.30 L210.40,70.50" stroke="#959595" stroke-width="1.05"/>
<path d="M210.60,42.30 L211.10,37.80 L212.70,34.30" fill="none" stroke="#a8a8a8" stroke-width="0.8"/>
<path d="M214.40,34.30 L214.50,59.30" stroke="#959595" stroke-width="1.05"/>
<path d="M214.70,42.30 L215.20,37.80 L216.80,34.30" fill="none" stroke="#a8a8a8" stroke-width="0.8"/>
<path d="M218.50,34.30 L218.60,50.00" stroke="#959595" stroke-width="1.05"/>
<path d="M218.80,42.15 L219.30,37.80 L220.90,34.30" fill="none" stroke="#a8a8a8" stroke-width="0.8"/>
<path d="M222.40,34.30 L222.50,40.50" stroke="#959595" stroke-width="1.05"/>
<path d="M222.70,37.40 L223.20,36.16 L224.80,34.30" fill="none" stroke="#a8a8a8" stroke-width="0.8"/>
<path d="M226.80,34.30 L226.80,27.60" stroke="#959595" stroke-width="1.1"/>
<path d="M227.10,31.62 Q227.40,32.96 228.40,34.30" fill="none" stroke="#b4b4b4" stroke-width="0.8"/>
<path d="M230.80,34.30 L230.80,27.60" stroke="#959595" stroke-width="1.1"/>
<path d="M231.10,31.62 Q231.40,32.96 232.40,34.30" fill="none" stroke="#b4b4b4" stroke-width="0.8"/>
<path d="M234.80,34.30 L234.80,27.60" stroke="#959595" stroke-width="1.1"/>
<path d="M235.10,31.62 Q235.40,32.96 236.40,34.30" fill="none" stroke="#b4b4b4" stroke-width="0.8"/>
<path d="M238.80,34.30 L238.80,27.60" stroke="#959595" stroke-width="1.1"/>
<path d="M239.10,31.62 Q239.40,32.96 240.40,34.30" fill="none" stroke="#b4b4b4" stroke-width="0.8"/>
<path d="M242.80,34.30 L242.80,27.60" stroke="#959595" stroke-width="1.1"/>
<path d="M243.10,31.62 Q243.40,32.96 244.40,34.30" fill="none" stroke="#b4b4b4" stroke-width="0.8"/>
<path d="M246.80,34.30 L246.80,27.60" stroke="#959595" stroke-width="1.1"/>
<path d="M247.10,31.62 Q247.40,32.96 248.40,34.30" fill="none" stroke="#b4b4b4" stroke-width="0.8"/>
<path d="M250.80,34.30 L250.80,27.60" stroke="#959595" stroke-width="1.1"/>
<path d="M251.10,31.62 Q251.40,32.96 252.40,34.30" fill="none" stroke="#b4b4b4" stroke-width="0.8"/>
<polyline points="297.70,80.96 298.10,81.08 298.50,80.75 298.90,80.56 299.30,80.94 299.70,81.46 300.10,81.85 300.50,81.75 300.90,81.78 301.30,82.07 301.70,82.00 302.10,81.24 302.50,80.46 302.90,80.56 303.30,81.02 303.70,81.15 304.10,80.85 304.50,81.15 304.90,81.89 305.30,82.47 305.70,82.26 306.10,81.55 306.50,81.09 306.90,81.08 307.30,81.16 307.70,80.75 308.10,80.41 308.50,81.08 308.90,81.93 309.30,82.18 309.70,81.83 310.10,81.55 310.50,81.60 310.90,81.55 311.30,81.21 311.70,80.68 312.10,80.64 312.50,80.99 312.90,81.47 313.30,81.42 313.70,81.40 314.10,81.77 314.50,82.08 314.90,81.71 315.30,81.01 315.70,80.93 316.10,81.27 316.50,81.40 316.90,81.27 317.30,81.14 317.70,81.44 318.10,81.90 318.50,81.82 318.90,81.19 319.30,80.71 319.70,81.16 320.10,81.57 320.50,81.39 320.90,80.92 321.30,81.15 321.70,81.81 322.10,82.06 322.50,81.64 322.90,81.12 323.30,81.07 323.70,81.17 324.10,81.23 324.50,80.91 324.90,80.88 325.30,81.42 325.70,82.07 326.10,82.02 326.50,81.62 326.90,81.53 327.30,81.62 327.70,81.27 328.10,80.67 328.50,80.47 328.90,80.88 329.30,81.49 329.70,81.85 330.10,81.77 330.50,81.85 330.90,82.15 331.30,82.02 331.70,81.20 332.10,80.52 332.50,80.62 332.90,81.02 333.30,81.06 333.70,81.12 334.10,81.38 334.50,82.02 334.90,82.42 335.30,82.03 335.70,81.24 336.10,80.90 336.50,81.22 336.90,81.24 337.30,80.76 337.70,80.41 338.10,81.07 338.50,81.86 338.90,82.05 339.30,81.71 339.70,81.51 340.10,81.63 340.50,81.59 340.90,81.26 341.30,80.77 341.70,80.76 342.10,81.40 342.50,81.73 342.90,81.50 343.30,81.33 343.70,81.57 344.10,81.74 344.50,81.30 344.90,80.95 345.30,80.97 345.70,81.37 346.10,81.69 346.50,81.60 346.90,81.38 347.30,81.56 347.70,81.82 348.10,81.52 348.50,80.77 348.90,80.61 349.30,81.11 349.70,81.53 350.10,81.56 350.50,81.52 350.90,81.77 351.30,82.18 351.70,82.06 352.10,81.27 352.50,80.52 352.90,80.67 353.30,81.11 353.70,81.10 354.10,81.09 354.50,81.48 354.90,82.18 355.30,82.49 355.70,81.99 356.10,81.21 356.50,80.83 356.90,81.14 357.30,81.09 357.70,80.62 358.10,80.42 358.50,81.14 358.90,81.95 359.30,82.10 359.70,81.80 360.10,81.70 360.50,81.81 360.90,81.52 361.30,81.05 361.70,80.60 362.10,80.71 362.50,81.06 362.90,81.31 363.30,81.27 363.70,81.44 364.10,81.96 364.50,82.21 364.90,81.72 365.30,80.94 365.70,80.99 366.10,81.34 366.50,81.32 366.90,81.11 367.30,81.10 367.70,81.55 368.10,81.98 368.50,81.77 368.90,81.13 369.30,80.79 369.70,81.31 370.10,81.59 370.50,81.27 370.90,80.84 371.30,81.20 371.70,81.86 372.10,81.97 372.50,81.50 372.90,81.14 373.30,81.22 373.70,81.25 374.10,81.17 374.50,80.86 374.90,80.97 375.30,81.43 375.70,81.95 376.10,81.80 376.50,81.54 376.90,81.63 377.30,81.75 377.70,81.29 378.10,80.57 378.50,80.54 378.90,81.04 379.30,81.45 379.70,81.67 380.10,81.65 380.50,81.91 380.90,82.26 381.30,82.02 381.70,81.13 382.10,80.48 382.50,80.72" fill="none" stroke="#555" stroke-width="1.1"/>
<path d="M299.40,81.00 L299.40,67.50" stroke="#959595" stroke-width="1.1"/>
<path d="M299.70,75.60 Q300.00,79.00 301.00,81.00" fill="none" stroke="#b4b4b4" stroke-width="0.8"/>
<path d="M303.80,81.00 L303.80,39.00" stroke="#959595" stroke-width="1.1"/>
<path d="M304.10,64.20 Q304.40,79.00 305.40,81.00" fill="none" stroke="#b4b4b4" stroke-width="0.8"/>
<path d="M307.80,81.00 L307.80,45.00" stroke="#959595" stroke-width="1.1"/>
<path d="M308.10,66.60 Q308.40,79.00 309.40,81.00" fill="none" stroke="#b4b4b4" stroke-width="0.8"/>
<path d="M312.20,81.00 L312.20,48.50" stroke="#959595" stroke-width="1.1"/>
<path d="M312.50,68.00 Q312.80,79.00 313.80,81.00" fill="none" stroke="#b4b4b4" stroke-width="0.8"/>
<path d="M316.30,81.00 L316.30,51.30" stroke="#959595" stroke-width="1.1"/>
<path d="M316.60,69.12 Q316.90,79.00 317.90,81.00" fill="none" stroke="#b4b4b4" stroke-width="0.8"/>
<path d="M320.70,81.00 L320.70,47.80" stroke="#959595" stroke-width="1.1"/>
<path d="M321.00,67.72 Q321.30,79.00 322.30,81.00" fill="none" stroke="#b4b4b4" stroke-width="0.8"/>
<path d="M324.90,81.00 L324.90,47.20" stroke="#959595" stroke-width="1.1"/>
<path d="M325.20,67.48 Q325.50,79.00 326.50,81.00" fill="none" stroke="#b4b4b4" stroke-width="0.8"/>
<path d="M328.90,81.00 L328.90,50.80" stroke="#959595" stroke-width="1.1"/>
<path d="M329.20,68.92 Q329.50,79.00 330.50,81.00" fill="none" stroke="#b4b4b4" stroke-width="0.8"/>
<path d="M333.00,81.00 L333.00,52.50" stroke="#959595" stroke-width="1.1"/>
<path d="M333.30,69.60 Q333.60,79.00 334.60,81.00" fill="none" stroke="#b4b4b4" stroke-width="0.8"/>
<path d="M337.40,81.00 L337.40,54.80" stroke="#959595" stroke-width="1.1"/>
<path d="M337.70,70.52 Q338.00,79.00 339.00,81.00" fill="none" stroke="#b4b4b4" stroke-width="0.8"/>
<path d="M341.50,81.00 L341.50,56.10" stroke="#959595" stroke-width="1.1"/>
<path d="M341.80,71.04 Q342.10,79.00 343.10,81.00" fill="none" stroke="#b4b4b4" stroke-width="0.8"/>
<path d="M345.60,81.00 L345.60,56.10" stroke="#959595" stroke-width="1.1"/>
<path d="M345.90,71.04 Q346.20,79.00 347.20,81.00" fill="none" stroke="#b4b4b4" stroke-width="0.8"/>
<path d="M349.60,81.00 L349.60,56.10" stroke="#959595" stroke-width="1.1"/>
<path d="M349.90,71.04 Q350.20,79.00 351.20,81.00" fill="none" stroke="#b4b4b4" stroke-width="0.8"/>
<path d="M353.50,81.00 L353.50,58.70" stroke="#959595" stroke-width="1.1"/>
<path d="M353.80,72.08 Q354.10,79.00 355.10,81.00" fill="none" stroke="#b4b4b4" stroke-width="0.8"/>
<path d="M357.90,81.00 L357.90,57.00" stroke="#959595" stroke-width="1.1"/>
<path d="M358.20,71.40 Q358.50,79.00 359.50,81.00" fill="none" stroke="#b4b4b4" stroke-width="0.8"/>
<path d="M362.30,81.00 L362.30,60.50" stroke="#959595" stroke-width="1.1"/>
<path d="M362.60,72.80 Q362.90,79.00 363.90,81.00" fill="none" stroke="#b4b4b4" stroke-width="0.8"/>
<path d="M366.30,81.00 L366.30,61.40" stroke="#959595" stroke-width="1.1"/>
<path d="M366.60,73.16 Q366.90,79.00 367.90,81.00" fill="none" stroke="#b4b4b4" stroke-width="0.8"/>
<path d="M370.70,81.00 L370.70,62.30" stroke="#959595" stroke-width="1.1"/>
<path d="M371.00,73.52 Q371.30,79.00 372.30,81.00" fill="none" stroke="#b4b4b4" stroke-width="0.8"/>
<path d="M375.00,81.00 L375.00,67.50" stroke="#959595" stroke-width="1.1"/>
<path d="M375.30,75.60 Q375.60,79.00 376.60,81.00" fill="none" stroke="#b4b4b4" stroke-width="0.8"/>
<path d="M379.00,81.00 L379.00,64.00" stroke="#959595" stroke-width="1.1"/>
<path d="M379.30,74.20 Q379.60,79.00 380.60,81.00" fill="none" stroke="#b4b4b4" stroke-width="0.8"/>
<line x1="428.70" y1="26.10" x2="510.70" y2="26.10" stroke="#8a8a8a" stroke-width="0.9"/>
<path d="M430.60,26.10 L430.70,38.10" stroke="#959595" stroke-width="1.05"/>
<path d="M430.90,32.10 L431.40,29.60 L433.00,26.10" fill="none" stroke="#a8a8a8" stroke-width="0.8"/>
<path d="M435.90,26.10 L436.00,79.80" stroke="#959595" stroke-width="1.05"/>
<path d="M436.20,34.10 L436.70,29.60 L438.30,26.10" fill="none" stroke="#a8a8a8" stroke-width="0.8"/>
<path d="M440.90,26.10 L441.00,83.70" stroke="#959595" stroke-width="1.05"/>
<path d="M441.20,34.10 L441.70,29.60 L443.30,26.10" fill="none" stroke="#a8a8a8" stroke-width="0.8"/>
<path d="M445.90,26.10 L446.00,85.60" stroke="#959595" stroke-width="1.05"/>
<path d="M446.20,34.10 L446.70,29.60 L448.30,26.10" fill="none" stroke="#a8a8a8" stroke-width="0.8"/>
<path d="M451.20,26.10 L451.30,69.00" stroke="#959595" stroke-width="1.05"/>
<path d="M451.50,34.10 L452.00,29.60 L453.60,26.10" fill="none" stroke="#a8a8a8" stroke-width="0.8"/>
<path d="M456.40,26.10 L456.50,47.60" stroke="#959595" stroke-width="1.05"/>
<path d="M456.70,34.10 L457.20,29.60 L458.80,26.10" fill="none" stroke="#a8a8a8" stroke-width="0.8"/>
<path d="M461.50,26.10 L461.60,37.60" stroke="#959595" stroke-width="1.05"/>
<path d="M461.80,31.85 L462.30,29.55 L463.90,26.10" fill="none" stroke="#a8a8a8" stroke-width="0.8"/>
<path d="M466.80,26.10 L466.90,35.30" stroke="#959595" stroke-width="1.05"/>
<path d="M467.10,30.70 L467.60,28.86 L469.20,26.10" fill="none" stroke="#a8a8a8" stroke-width="0.8"/>
<path d="M472.00,26.10 L472.10,33.60" stroke="#959595" stroke-width="1.05"/>
<path d="M472.30,29.85 L472.80,28.35 L474.40,26.10" fill="none" stroke="#a8a8a8" stroke-width="0.8"/>
<path d="M477.20,26.10 L477.30,33.00" stroke="#959595" stroke-width="1.05"/>
<path d="M477.50,29.55 L478.00,28.17 L479.60,26.10" fill="none" stroke="#a8a8a8" stroke-width="0.8"/>
<path d="M482.60,26.10 L482.70,31.80" stroke="#959595" stroke-width="1.05"/>
<path d="M482.90,28.95 L483.40,27.81 L485.00,26.10" fill="none" stroke="#a8a8a8" stroke-width="0.8"/>
<path d="M487.90,26.10 L488.00,31.60" stroke="#959595" stroke-width="1.05"/>
<path d="M488.20,28.85 L488.70,27.75 L490.30,26.10" fill="none" stroke="#a8a8a8" stroke-width="0.8"/>
<path d="M493.30,26.10 L493.40,31.30" stroke="#959595" stroke-width="1.05"/>
<path d="M493.60,28.70 L494.10,27.66 L495.70,26.10" fill="none" stroke="#a8a8a8" stroke-width="0.8"/>
<path d="M498.50,26.10 L498.60,30.70" stroke="#959595" stroke-width="1.05"/>
<path d="M498.80,28.40 L499.30,27.48 L500.90,26.10" fill="none" stroke="#a8a8a8" stroke-width="0.8"/>
<path d="M503.70,26.10 L503.80,30.70" stroke="#959595" stroke-width="1.05"/>
<path d="M504.00,28.40 L504.50,27.48 L506.10,26.10" fill="none" stroke="#a8a8a8" stroke-width="0.8"/>
<path d="M508.90,26.10 L509.00,30.50" stroke="#959595" stroke-width="1.05"/>
<path d="M509.20,28.30 L509.70,27.42 L511.30,26.10" fill="none" stroke="#a8a8a8" stroke-width="0.8"/>
<path d="M47.40,156.20 C48.73,156.27 52.70,156.43 55.40,156.60 C58.10,156.77 61.52,157.08 63.60,157.20 C65.68,157.32 66.48,157.33 67.90,157.30 C69.32,157.27 70.68,157.27 72.10,157.00 C73.52,156.73 74.95,156.37 76.40,155.70 C77.85,155.03 79.37,154.32 80.80,153.00 C82.23,151.68 83.58,150.70 85.00,147.80 C86.42,144.90 87.87,140.90 89.30,135.60 C90.73,130.30 92.40,120.85 93.60,116.00 C94.80,111.15 95.60,108.73 96.50,106.50 C97.40,104.27 97.98,103.47 99.00,102.60 C100.02,101.73 101.25,101.58 102.60,101.30 C103.95,101.02 105.60,100.98 107.10,100.90 C108.60,100.82 110.08,100.82 111.60,100.80 C113.12,100.78 114.63,100.75 116.20,100.80 C117.77,100.85 119.45,100.97 121.00,101.10 C122.55,101.23 124.00,101.47 125.50,101.60 C127.00,101.73 129.25,101.85 130.00,101.90" fill="none" stroke="#888" stroke-width="0.8"/>
<rect x="46.05" y="154.65" width="2.7" height="2.7" fill="#000"/>
<rect x="54.05" y="154.95" width="2.7" height="2.7" fill="#000"/>
<rect x="62.25" y="156.25" width="2.7" height="2.7" fill="#000"/>
<rect x="66.55" y="156.35" width="2.7" height="2.7" fill="#000"/>
<rect x="70.75" y="156.35" width="2.7" height="2.7" fill="#000"/>
<rect x="75.05" y="154.25" width="2.7" height="2.7" fill="#000"/>
<rect x="79.45" y="151.85" width="2.7" height="2.7" fill="#000"/>
<rect x="83.65" y="146.75" width="2.7" height="2.7" fill="#000"/>
<rect x="87.95" y="134.25" width="2.7" height="2.7" fill="#000"/>
<rect x="92.25" y="114.65" width="2.7" height="2.7" fill="#000"/>
<rect x="96.75" y="101.35" width="2.7" height="2.7" fill="#000"/>
<rect x="101.25" y="99.85" width="2.7" height="2.7" fill="#000"/>
<rect x="105.75" y="99.55" width="2.7" height="2.7" fill="#000"/>
<rect x="110.25" y="99.55" width="2.7" height="2.7" fill="#000"/>
<rect x="114.85" y="98.75" width="2.7" height="2.7" fill="#000"/>
<rect x="119.65" y="99.85" width="2.7" height="2.7" fill="#000"/>
<rect x="124.15" y="100.75" width="2.7" height="2.7" fill="#000"/>
<rect x="128.65" y="100.75" width="2.7" height="2.7" fill="#000"/>
<path d="M174.08,155.47 L174.46,155.47 L174.83,155.47 L175.21,155.47 L175.59,155.46 L175.97,155.46 L176.34,155.46 L176.72,155.46 L177.10,155.45 L177.47,155.45 L177.85,155.45 L178.23,155.45 L178.61,155.44 L178.98,155.44 L179.36,155.44 L179.74,155.43 L180.12,155.43 L180.49,155.43 L180.87,155.42 L181.25,155.42 L181.62,155.41 L182.00,155.41 L182.38,155.41 L182.76,155.40 L183.13,155.40 L183.51,155.39 L183.89,155.39 L184.26,155.38 L184.64,155.38 L185.02,155.37 L185.40,155.37 L185.77,155.36 L186.15,155.35 L186.53,155.35 L186.90,155.34 L187.28,155.34 L187.66,155.33 L188.04,155.32 L188.41,155.31 L188.79,155.31 L189.17,155.30 L189.55,155.29 L189.92,155.28 L190.30,155.27 L190.68,155.26 L191.05,155.25 L191.43,155.24 L191.81,155.23 L192.19,155.22 L192.56,155.21 L192.94,155.20 L193.32,155.18 L193.69,155.17 L194.07,155.15 L194.45,155.14 L194.83,155.12 L195.20,155.11 L195.58,155.09 L195.96,155.07 L196.33,155.05 L196.71,155.03 L197.09,155.01 L197.47,154.99 L197.84,154.96 L198.22,154.93 L198.60,154.91 L198.98,154.88 L199.35,154.85 L199.73,154.81 L200.11,154.78 L200.48,154.74 L200.86,154.70 L201.24,154.66 L201.62,154.61 L201.99,154.56 L202.37,154.51 L202.75,154.45 L203.12,154.39 L203.50,154.32 L203.88,154.25 L204.26,154.17 L204.63,154.08 L205.01,153.99 L205.39,153.89 L205.76,153.77 L206.14,153.65 L206.52,153.51 L206.90,153.36 L207.27,153.20 L207.65,153.02 L208.03,152.81 L208.41,152.58 L208.78,152.33 L209.16,152.04 L209.54,151.72 L209.91,151.35 L210.29,150.94 L210.67,150.47 L211.05,149.93 L211.42,149.32 L211.80,148.62 L212.18,147.82 L212.55,146.90 L212.93,145.84 L213.31,144.63 L213.69,143.25 L214.06,141.69 L214.44,139.94 L214.82,137.99 L215.19,135.87 L215.57,133.60 L215.95,131.22 L216.33,128.78 L216.70,126.34 L217.08,123.97 L217.46,121.71 L217.84,119.61 L218.21,117.68 L218.59,115.95 L218.97,114.41 L219.34,113.05 L219.72,111.85 L220.10,110.81 L220.48,109.90 L220.85,109.11 L221.23,108.41 L221.61,107.81 L221.98,107.28 L222.36,106.82 L222.74,106.41 L223.12,106.05 L223.49,105.73 L223.87,105.45 L224.25,105.19 L224.62,104.97 L225.00,104.77 L225.38,104.58 L225.76,104.42 L226.13,104.27 L226.51,104.14 L226.89,104.02 L227.27,103.90 L227.64,103.80 L228.02,103.71 L228.40,103.62 L228.77,103.55 L229.15,103.47 L229.53,103.41 L229.91,103.34 L230.28,103.29 L230.66,103.23 L231.04,103.18 L231.41,103.14 L231.79,103.10 L232.17,103.06 L232.55,103.02 L232.92,102.98 L233.30,102.95 L233.68,102.92 L234.05,102.89 L234.43,102.86 L234.81,102.84 L235.19,102.81 L235.56,102.79 L235.94,102.77 L236.32,102.75 L236.70,102.73 L237.07,102.71 L237.45,102.69 L237.83,102.68 L238.20,102.66 L238.58,102.64 L238.96,102.63 L239.34,102.62 L239.71,102.60 L240.09,102.59 L240.47,102.58 L240.84,102.57 L241.22,102.56 L241.60,102.55 L241.98,102.54 L242.35,102.53 L242.73,102.52 L243.11,102.51 L243.48,102.50 L243.86,102.49 L244.24,102.49 L244.62,102.48 L244.99,102.47 L245.37,102.46 L245.75,102.46 L246.13,102.45 L246.50,102.44 L246.88,102.44 L247.26,102.43 L247.63,102.43 L248.01,102.42 L248.39,102.42 L248.77,102.41 L249.14,102.41 L249.52,102.40" fill="none" stroke="#888" stroke-width="0.8"/>
<rect x="173.35" y="153.35" width="2.7" height="2.7" fill="#000"/>
<rect x="177.25" y="154.85" width="2.7" height="2.7" fill="#000"/>
<rect x="181.15" y="155.25" width="2.7" height="2.7" fill="#000"/>
<rect x="185.05" y="154.25" width="2.7" height="2.7" fill="#000"/>
<rect x="188.95" y="154.25" width="2.7" height="2.7" fill="#000"/>
<rect x="193.25" y="154.85" width="2.7" height="2.7" fill="#000"/>
<rect x="197.25" y="153.95" width="2.7" height="2.7" fill="#000"/>
<rect x="201.35" y="153.95" width="2.7" height="2.7" fill="#000"/>
<rect x="209.35" y="145.25" width="2.7" height="2.7" fill="#000"/>
<rect x="213.45" y="133.55" width="2.7" height="2.7" fill="#000"/>
<rect x="217.85" y="112.25" width="2.7" height="2.7" fill="#000"/>
<rect x="226.25" y="100.45" width="2.7" height="2.7" fill="#000"/>
<rect x="230.55" y="100.45" width="2.7" height="2.7" fill="#000"/>
<rect x="235.05" y="101.05" width="2.7" height="2.7" fill="#000"/>
<rect x="238.95" y="101.05" width="2.7" height="2.7" fill="#000"/>
<rect x="243.85" y="101.05" width="2.7" height="2.7" fill="#000"/>
<rect x="248.15" y="101.45" width="2.7" height="2.7" fill="#000"/>
<rect x="294.05" y="145.15" width="2.7" height="2.7" fill="#000"/>
<rect x="299.35" y="101.05" width="2.7" height="2.7" fill="#000"/>
<rect x="304.85" y="106.35" width="2.7" height="2.7" fill="#000"/>
<rect x="315.35" y="108.95" width="2.7" height="2.7" fill="#000"/>
<rect x="320.85" y="106.95" width="2.7" height="2.7" fill="#000"/>
<rect x="326.75" y="140.65" width="2.7" height="2.7" fill="#000"/>
<rect x="332.25" y="120.05" width="2.7" height="2.7" fill="#000"/>
<rect x="338.05" y="118.25" width="2.7" height="2.7" fill="#000"/>
<rect x="343.85" y="145.15" width="2.7" height="2.7" fill="#000"/>
<rect x="349.35" y="137.05" width="2.7" height="2.7" fill="#000"/>
<rect x="355.25" y="153.95" width="2.7" height="2.7" fill="#000"/>
<rect x="361.05" y="140.05" width="2.7" height="2.7" fill="#000"/>
<rect x="366.95" y="149.05" width="2.7" height="2.7" fill="#000"/>
<rect x="379.05" y="152.75" width="2.7" height="2.7" fill="#000"/>
<path d="M423.20,153.60 C423.98,153.73 429.51,154.80 431.00,154.90 C432.49,155.00 436.61,155.13 438.10,154.60 C439.59,154.07 444.34,153.21 445.90,149.60 C447.46,145.99 452.15,123.22 453.70,118.50 C455.25,113.78 459.86,104.26 461.40,102.40 C462.94,100.54 467.53,100.21 469.10,99.90 C470.67,99.59 475.51,99.41 477.10,99.30 C478.69,99.19 483.41,98.87 485.00,98.80 C486.59,98.73 491.38,98.65 493.00,98.60 C494.62,98.55 499.56,98.35 501.20,98.30 C502.84,98.25 508.58,98.12 509.40,98.10" fill="none" stroke="#888" stroke-width="0.8"/>
<rect x="421.85" y="151.05" width="2.7" height="2.7" fill="#000"/>
<rect x="436.75" y="153.35" width="2.7" height="2.7" fill="#000"/>
<rect x="444.55" y="147.85" width="2.7" height="2.7" fill="#000"/>
<rect x="452.35" y="117.15" width="2.7" height="2.7" fill="#000"/>
<rect x="460.05" y="100.85" width="2.7" height="2.7" fill="#000"/>
<rect x="467.75" y="98.55" width="2.7" height="2.7" fill="#000"/>
<rect x="475.75" y="97.95" width="2.7" height="2.7" fill="#000"/>
<rect x="483.65" y="97.15" width="2.7" height="2.7" fill="#000"/>
<rect x="491.65" y="97.15" width="2.7" height="2.7" fill="#000"/>
<rect x="499.85" y="96.15" width="2.7" height="2.7" fill="#000"/>
<rect x="508.05" y="96.55" width="2.7" height="2.7" fill="#000"/>
<text transform="translate(0.80,218.40) scale(1,1.03)" font-size="16.8" text-anchor="start" font-weight="bold" font-style="normal" fill="#000" >B</text>
<line x1="49.60" y1="210.30" x2="49.60" y2="370.50" stroke="#555" stroke-width="0.9"/>
<line x1="46.60" y1="370.50" x2="49.60" y2="370.50" stroke="#555" stroke-width="0.9"/>
<text transform="translate(45.60,373.10) scale(1,1.08)" font-size="9.6" text-anchor="end" font-weight="normal" font-style="normal" fill="#222" >0</text>
<line x1="46.60" y1="350.52" x2="49.60" y2="350.52" stroke="#555" stroke-width="0.9"/>
<text transform="translate(45.60,353.12) scale(1,1.08)" font-size="9.6" text-anchor="end" font-weight="normal" font-style="normal" fill="#222" >0.01</text>
<line x1="46.60" y1="330.55" x2="49.60" y2="330.55" stroke="#555" stroke-width="0.9"/>
<text transform="translate(45.60,333.15) scale(1,1.08)" font-size="9.6" text-anchor="end" font-weight="normal" font-style="normal" fill="#222" >0.02</text>
<line x1="46.60" y1="310.57" x2="49.60" y2="310.57" stroke="#555" stroke-width="0.9"/>
<text transform="translate(45.60,313.18) scale(1,1.08)" font-size="9.6" text-anchor="end" font-weight="normal" font-style="normal" fill="#222" >0.03</text>
<line x1="46.60" y1="290.60" x2="49.60" y2="290.60" stroke="#555" stroke-width="0.9"/>
<text transform="translate(45.60,293.20) scale(1,1.08)" font-size="9.6" text-anchor="end" font-weight="normal" font-style="normal" fill="#222" >0.04</text>
<line x1="46.60" y1="270.62" x2="49.60" y2="270.62" stroke="#555" stroke-width="0.9"/>
<text transform="translate(45.60,273.23) scale(1,1.08)" font-size="9.6" text-anchor="end" font-weight="normal" font-style="normal" fill="#222" >0.05</text>
<line x1="46.60" y1="250.65" x2="49.60" y2="250.65" stroke="#555" stroke-width="0.9"/>
<text transform="translate(45.60,253.25) scale(1,1.08)" font-size="9.6" text-anchor="end" font-weight="normal" font-style="normal" fill="#222" >0.06</text>
<line x1="46.60" y1="230.67" x2="49.60" y2="230.67" stroke="#555" stroke-width="0.9"/>
<text transform="translate(45.60,233.27) scale(1,1.08)" font-size="9.6" text-anchor="end" font-weight="normal" font-style="normal" fill="#222" >0.07</text>
<line x1="46.60" y1="210.70" x2="49.60" y2="210.70" stroke="#555" stroke-width="0.9"/>
<text transform="translate(45.60,213.30) scale(1,1.08)" font-size="9.6" text-anchor="end" font-weight="normal" font-style="normal" fill="#222" >0.08</text>
<text transform="translate(20.3,289.4) rotate(-90)" font-size="9.25" text-anchor="middle" fill="#222">Fraction of Input</text>
<rect x="192.40" y="212.3" width="5" height="5" fill="#fff" stroke="#444" stroke-width="0.8"/>
<text transform="translate(198.20,218.10) scale(1,1.05)" font-size="9.5" text-anchor="start" font-weight="normal" font-style="normal" fill="#222" >G1E</text>
<rect x="226.60" y="212.3" width="5" height="5" fill="#000" stroke="#444" stroke-width="0.8"/>
<text transform="translate(233.40,218.10) scale(1,1.05)" font-size="9.5" text-anchor="start" font-weight="normal" font-style="normal" fill="#222" >GATA1</text>
<rect x="271.40" y="212.3" width="5" height="5" fill="#e4e4e4" stroke="#444" stroke-width="0.8"/>
<text transform="translate(278.20,218.10) scale(1,1.05)" font-size="9.5" text-anchor="start" font-weight="normal" font-style="normal" fill="#222" >R216Q</text>
<rect x="316.70" y="212.3" width="5" height="5" fill="#6e6e6e" stroke="#444" stroke-width="0.8"/>
<text transform="translate(323.60,218.10) scale(1,1.05)" font-size="9.5" text-anchor="start" font-weight="normal" font-style="normal" fill="#222" >R216W</text>
<rect x="53.00" y="368.40" width="7.55" height="2.10" fill="#fff" stroke="#444" stroke-width="0.7"/>
<line x1="64.33" y1="318.50" x2="64.33" y2="296.90" stroke="#444" stroke-width="0.8"/>
<line x1="62.33" y1="296.90" x2="66.33" y2="296.90" stroke="#444" stroke-width="0.9"/>
<rect x="60.55" y="318.50" width="7.55" height="52.00" fill="#000" stroke="#444" stroke-width="0.7"/>
<line x1="71.88" y1="326.20" x2="71.88" y2="318.50" stroke="#444" stroke-width="0.8"/>
<line x1="69.88" y1="318.50" x2="73.88" y2="318.50" stroke="#444" stroke-width="0.9"/>
<rect x="68.10" y="326.20" width="7.55" height="44.30" fill="#e4e4e4" stroke="#444" stroke-width="0.7"/>
<line x1="79.43" y1="329.30" x2="79.43" y2="308.40" stroke="#444" stroke-width="0.8"/>
<line x1="77.43" y1="308.40" x2="81.43" y2="308.40" stroke="#444" stroke-width="0.9"/>
<rect x="75.65" y="329.30" width="7.55" height="41.20" fill="#6e6e6e" stroke="#444" stroke-width="0.7"/>
<rect x="90.45" y="368.50" width="7.55" height="2.00" fill="#fff" stroke="#444" stroke-width="0.7"/>
<line x1="101.78" y1="277.30" x2="101.78" y2="257.20" stroke="#444" stroke-width="0.8"/>
<line x1="99.78" y1="257.20" x2="103.78" y2="257.20" stroke="#444" stroke-width="0.9"/>
<rect x="98.00" y="277.30" width="7.55" height="93.20" fill="#000" stroke="#444" stroke-width="0.7"/>
<line x1="109.33" y1="256.60" x2="109.33" y2="244.10" stroke="#444" stroke-width="0.8"/>
<line x1="107.33" y1="244.10" x2="111.33" y2="244.10" stroke="#444" stroke-width="0.9"/>
<rect x="105.55" y="256.60" width="7.55" height="113.90" fill="#e4e4e4" stroke="#444" stroke-width="0.7"/>
<line x1="116.88" y1="259.00" x2="116.88" y2="218.40" stroke="#444" stroke-width="0.8"/>
<line x1="114.88" y1="218.40" x2="118.88" y2="218.40" stroke="#444" stroke-width="0.9"/>
<rect x="113.10" y="259.00" width="7.55" height="111.50" fill="#6e6e6e" stroke="#444" stroke-width="0.7"/>
<rect x="127.90" y="368.50" width="7.55" height="2.00" fill="#fff" stroke="#444" stroke-width="0.7"/>
<line x1="139.23" y1="288.50" x2="139.23" y2="271.00" stroke="#444" stroke-width="0.8"/>
<line x1="137.23" y1="271.00" x2="141.23" y2="271.00" stroke="#444" stroke-width="0.9"/>
<rect x="135.45" y="288.50" width="7.55" height="82.00" fill="#000" stroke="#444" stroke-width="0.7"/>
<line x1="146.78" y1="247.60" x2="146.78" y2="238.30" stroke="#444" stroke-width="0.8"/>
<line x1="144.78" y1="238.30" x2="148.78" y2="238.30" stroke="#444" stroke-width="0.9"/>
<rect x="143.00" y="247.60" width="7.55" height="122.90" fill="#e4e4e4" stroke="#444" stroke-width="0.7"/>
<line x1="154.33" y1="319.50" x2="154.33" y2="304.30" stroke="#444" stroke-width="0.8"/>
<line x1="152.33" y1="304.30" x2="156.33" y2="304.30" stroke="#444" stroke-width="0.9"/>
<rect x="150.55" y="319.50" width="7.55" height="51.00" fill="#6e6e6e" stroke="#444" stroke-width="0.7"/>
<rect x="165.35" y="368.80" width="7.55" height="1.70" fill="#fff" stroke="#444" stroke-width="0.7"/>
<line x1="176.68" y1="303.40" x2="176.68" y2="291.60" stroke="#444" stroke-width="0.8"/>
<line x1="174.68" y1="291.60" x2="178.68" y2="291.60" stroke="#444" stroke-width="0.9"/>
<rect x="172.90" y="303.40" width="7.55" height="67.10" fill="#000" stroke="#444" stroke-width="0.7"/>
<line x1="184.23" y1="304.10" x2="184.23" y2="299.70" stroke="#444" stroke-width="0.8"/>
<line x1="182.23" y1="299.70" x2="186.23" y2="299.70" stroke="#444" stroke-width="0.9"/>
<rect x="180.45" y="304.10" width="7.55" height="66.40" fill="#e4e4e4" stroke="#444" stroke-width="0.7"/>
<line x1="191.78" y1="303.40" x2="191.78" y2="284.30" stroke="#444" stroke-width="0.8"/>
<line x1="189.78" y1="284.30" x2="193.78" y2="284.30" stroke="#444" stroke-width="0.9"/>
<rect x="188.00" y="303.40" width="7.55" height="67.10" fill="#6e6e6e" stroke="#444" stroke-width="0.7"/>
<rect x="202.80" y="369.00" width="7.55" height="1.50" fill="#fff" stroke="#444" stroke-width="0.7"/>
<line x1="214.13" y1="310.10" x2="214.13" y2="300.80" stroke="#444" stroke-width="0.8"/>
<line x1="212.13" y1="300.80" x2="216.13" y2="300.80" stroke="#444" stroke-width="0.9"/>
<rect x="210.35" y="310.10" width="7.55" height="60.40" fill="#000" stroke="#444" stroke-width="0.7"/>
<line x1="221.68" y1="327.80" x2="221.68" y2="315.20" stroke="#444" stroke-width="0.8"/>
<line x1="219.68" y1="315.20" x2="223.68" y2="315.20" stroke="#444" stroke-width="0.9"/>
<rect x="217.90" y="327.80" width="7.55" height="42.70" fill="#e4e4e4" stroke="#444" stroke-width="0.7"/>
<line x1="229.23" y1="343.90" x2="229.23" y2="337.50" stroke="#444" stroke-width="0.8"/>
<line x1="227.23" y1="337.50" x2="231.23" y2="337.50" stroke="#444" stroke-width="0.9"/>
<rect x="225.45" y="343.90" width="7.55" height="26.60" fill="#6e6e6e" stroke="#444" stroke-width="0.7"/>
<rect x="240.25" y="368.50" width="7.55" height="2.00" fill="#fff" stroke="#444" stroke-width="0.7"/>
<line x1="251.58" y1="330.60" x2="251.58" y2="319.70" stroke="#444" stroke-width="0.8"/>
<line x1="249.58" y1="319.70" x2="253.58" y2="319.70" stroke="#444" stroke-width="0.9"/>
<rect x="247.80" y="330.60" width="7.55" height="39.90" fill="#000" stroke="#444" stroke-width="0.7"/>
<line x1="259.12" y1="324.30" x2="259.12" y2="319.50" stroke="#444" stroke-width="0.8"/>
<line x1="257.12" y1="319.50" x2="261.12" y2="319.50" stroke="#444" stroke-width="0.9"/>
<rect x="255.35" y="324.30" width="7.55" height="46.20" fill="#e4e4e4" stroke="#444" stroke-width="0.7"/>
<line x1="266.67" y1="340.20" x2="266.67" y2="332.50" stroke="#444" stroke-width="0.8"/>
<line x1="264.67" y1="332.50" x2="268.67" y2="332.50" stroke="#444" stroke-width="0.9"/>
<rect x="262.90" y="340.20" width="7.55" height="30.30" fill="#6e6e6e" stroke="#444" stroke-width="0.7"/>
<rect x="277.70" y="368.30" width="7.55" height="2.20" fill="#fff" stroke="#444" stroke-width="0.7"/>
<line x1="289.03" y1="333.10" x2="289.03" y2="314.90" stroke="#444" stroke-width="0.8"/>
<line x1="287.03" y1="314.90" x2="291.03" y2="314.90" stroke="#444" stroke-width="0.9"/>
<rect x="285.25" y="333.10" width="7.55" height="37.40" fill="#000" stroke="#444" stroke-width="0.7"/>
<line x1="296.58" y1="343.60" x2="296.58" y2="337.30" stroke="#444" stroke-width="0.8"/>
<line x1="294.58" y1="337.30" x2="298.58" y2="337.30" stroke="#444" stroke-width="0.9"/>
<rect x="292.80" y="343.60" width="7.55" height="26.90" fill="#e4e4e4" stroke="#444" stroke-width="0.7"/>
<line x1="304.12" y1="339.80" x2="304.12" y2="326.20" stroke="#444" stroke-width="0.8"/>
<line x1="302.12" y1="326.20" x2="306.12" y2="326.20" stroke="#444" stroke-width="0.9"/>
<rect x="300.35" y="339.80" width="7.55" height="30.70" fill="#6e6e6e" stroke="#444" stroke-width="0.7"/>
<rect x="315.15" y="369.50" width="7.55" height="1.00" fill="#fff" stroke="#444" stroke-width="0.7"/>
<line x1="326.48" y1="348.10" x2="326.48" y2="342.80" stroke="#444" stroke-width="0.8"/>
<line x1="324.48" y1="342.80" x2="328.48" y2="342.80" stroke="#444" stroke-width="0.9"/>
<rect x="322.70" y="348.10" width="7.55" height="22.40" fill="#000" stroke="#444" stroke-width="0.7"/>
<line x1="334.03" y1="360.80" x2="334.03" y2="358.00" stroke="#444" stroke-width="0.8"/>
<line x1="332.03" y1="358.00" x2="336.03" y2="358.00" stroke="#444" stroke-width="0.9"/>
<rect x="330.25" y="360.80" width="7.55" height="9.70" fill="#e4e4e4" stroke="#444" stroke-width="0.7"/>
<line x1="341.57" y1="354.20" x2="341.57" y2="350.60" stroke="#444" stroke-width="0.8"/>
<line x1="339.57" y1="350.60" x2="343.57" y2="350.60" stroke="#444" stroke-width="0.9"/>
<rect x="337.80" y="354.20" width="7.55" height="16.30" fill="#6e6e6e" stroke="#444" stroke-width="0.7"/>
<rect x="352.60" y="367.40" width="7.55" height="3.10" fill="#fff" stroke="#444" stroke-width="0.7"/>
<line x1="363.93" y1="348.40" x2="363.93" y2="346.60" stroke="#444" stroke-width="0.8"/>
<line x1="361.93" y1="346.60" x2="365.93" y2="346.60" stroke="#444" stroke-width="0.9"/>
<rect x="360.15" y="348.40" width="7.55" height="22.10" fill="#000" stroke="#444" stroke-width="0.7"/>
<line x1="371.48" y1="345.30" x2="371.48" y2="339.40" stroke="#444" stroke-width="0.8"/>
<line x1="369.48" y1="339.40" x2="373.48" y2="339.40" stroke="#444" stroke-width="0.9"/>
<rect x="367.70" y="345.30" width="7.55" height="25.20" fill="#e4e4e4" stroke="#444" stroke-width="0.7"/>
<line x1="379.02" y1="358.00" x2="379.02" y2="355.40" stroke="#444" stroke-width="0.8"/>
<line x1="377.02" y1="355.40" x2="381.02" y2="355.40" stroke="#444" stroke-width="0.9"/>
<rect x="375.25" y="358.00" width="7.55" height="12.50" fill="#6e6e6e" stroke="#444" stroke-width="0.7"/>
<rect x="390.05" y="368.20" width="7.55" height="2.30" fill="#fff" stroke="#444" stroke-width="0.7"/>
<line x1="401.38" y1="357.20" x2="401.38" y2="356.00" stroke="#444" stroke-width="0.8"/>
<line x1="399.38" y1="356.00" x2="403.38" y2="356.00" stroke="#444" stroke-width="0.9"/>
<rect x="397.60" y="357.20" width="7.55" height="13.30" fill="#000" stroke="#444" stroke-width="0.7"/>
<line x1="408.93" y1="347.10" x2="408.93" y2="339.70" stroke="#444" stroke-width="0.8"/>
<line x1="406.93" y1="339.70" x2="410.93" y2="339.70" stroke="#444" stroke-width="0.9"/>
<rect x="405.15" y="347.10" width="7.55" height="23.40" fill="#e4e4e4" stroke="#444" stroke-width="0.7"/>
<line x1="416.47" y1="357.20" x2="416.47" y2="356.00" stroke="#444" stroke-width="0.8"/>
<line x1="414.47" y1="356.00" x2="418.47" y2="356.00" stroke="#444" stroke-width="0.9"/>
<rect x="412.70" y="357.20" width="7.55" height="13.30" fill="#6e6e6e" stroke="#444" stroke-width="0.7"/>
<rect x="427.50" y="368.80" width="7.55" height="1.70" fill="#fff" stroke="#444" stroke-width="0.7"/>
<line x1="438.82" y1="360.10" x2="438.82" y2="358.80" stroke="#444" stroke-width="0.8"/>
<line x1="436.82" y1="358.80" x2="440.82" y2="358.80" stroke="#444" stroke-width="0.9"/>
<rect x="435.05" y="360.10" width="7.55" height="10.40" fill="#000" stroke="#444" stroke-width="0.7"/>
<line x1="446.38" y1="359.40" x2="446.38" y2="354.20" stroke="#444" stroke-width="0.8"/>
<line x1="444.38" y1="354.20" x2="448.38" y2="354.20" stroke="#444" stroke-width="0.9"/>
<rect x="442.60" y="359.40" width="7.55" height="11.10" fill="#e4e4e4" stroke="#444" stroke-width="0.7"/>
<line x1="453.92" y1="359.80" x2="453.92" y2="356.30" stroke="#444" stroke-width="0.8"/>
<line x1="451.92" y1="356.30" x2="455.92" y2="356.30" stroke="#444" stroke-width="0.9"/>
<rect x="450.15" y="359.80" width="7.55" height="10.70" fill="#6e6e6e" stroke="#444" stroke-width="0.7"/>
<rect x="464.95" y="369.20" width="7.55" height="1.30" fill="#fff" stroke="#444" stroke-width="0.7"/>
<rect x="472.50" y="367.70" width="7.55" height="2.80" fill="#000" stroke="#444" stroke-width="0.7"/>
<line x1="483.83" y1="361.80" x2="483.83" y2="359.70" stroke="#444" stroke-width="0.8"/>
<line x1="481.83" y1="359.70" x2="485.83" y2="359.70" stroke="#444" stroke-width="0.9"/>
<rect x="480.05" y="361.80" width="7.55" height="8.70" fill="#e4e4e4" stroke="#444" stroke-width="0.7"/>
<line x1="491.38" y1="365.80" x2="491.38" y2="365.00" stroke="#444" stroke-width="0.8"/>
<line x1="489.38" y1="365.00" x2="493.38" y2="365.00" stroke="#444" stroke-width="0.9"/>
<rect x="487.60" y="365.80" width="7.55" height="4.70" fill="#6e6e6e" stroke="#444" stroke-width="0.7"/>
<line x1="49.60" y1="370.50" x2="498.50" y2="370.50" stroke="#777" stroke-width="1.0"/>
<text transform="translate(68.60,383.60) scale(1,1.0)" font-size="9.4" text-anchor="middle" font-weight="normal" font-style="italic" fill="#111" >Hbb</text>
<text transform="translate(68.40,394.90) scale(1,1.03)" font-size="9.4" text-anchor="middle" font-weight="normal" font-style="normal" fill="#111" >HS2</text>
<text transform="translate(106.05,383.60) scale(1,1.0)" font-size="9.4" text-anchor="middle" font-weight="normal" font-style="italic" fill="#111" >Lyl1</text>
<text transform="translate(105.85,394.90) scale(1,1.03)" font-size="9.4" text-anchor="middle" font-weight="normal" font-style="normal" fill="#111" >prom</text>
<text transform="translate(143.50,383.60) scale(1,1.0)" font-size="9.4" text-anchor="middle" font-weight="normal" font-style="italic" fill="#111" >Zfpm1</text>
<text transform="translate(143.30,394.90) scale(1,1.03)" font-size="9.4" text-anchor="middle" font-weight="normal" font-style="normal" fill="#111" >+2 kb</text>
<text transform="translate(180.95,383.60) scale(1,1.0)" font-size="9.4" text-anchor="middle" font-weight="normal" font-style="italic" fill="#111" >Spna1</text>
<text transform="translate(180.75,394.90) scale(1,1.03)" font-size="9.4" text-anchor="middle" font-weight="normal" font-style="normal" fill="#111" >prom</text>
<text transform="translate(218.40,383.60) scale(1,1.0)" font-size="9.4" text-anchor="middle" font-weight="normal" font-style="italic" fill="#111" >Uros</text>
<text transform="translate(218.20,394.90) scale(1,1.03)" font-size="9.4" text-anchor="middle" font-weight="normal" font-style="normal" fill="#111" >+11 kb</text>
<text transform="translate(255.85,383.60) scale(1,1.0)" font-size="9.4" text-anchor="middle" font-weight="normal" font-style="italic" fill="#111" >Alas2</text>
<text transform="translate(255.65,394.90) scale(1,1.03)" font-size="9.4" text-anchor="middle" font-weight="normal" font-style="normal" fill="#111" >+2 kb</text>
<text transform="translate(293.30,383.60) scale(1,1.0)" font-size="9.4" text-anchor="middle" font-weight="normal" font-style="italic" fill="#111" >Slc4a1</text>
<text transform="translate(293.10,394.90) scale(1,1.03)" font-size="9.4" text-anchor="middle" font-weight="normal" font-style="normal" fill="#111" >+1.6 kb</text>
<text transform="translate(330.75,383.60) scale(1,1.0)" font-size="9.4" text-anchor="middle" font-weight="normal" font-style="italic" fill="#111" >Slc22a4</text>
<text transform="translate(330.55,394.90) scale(1,1.03)" font-size="9.4" text-anchor="middle" font-weight="normal" font-style="normal" fill="#111" >+1.2 kb</text>
<text transform="translate(368.20,383.60) scale(1,1.0)" font-size="9.4" text-anchor="middle" font-weight="normal" font-style="italic" fill="#111" >Uros</text>
<text transform="translate(368.00,394.90) scale(1,1.03)" font-size="9.4" text-anchor="middle" font-weight="normal" font-style="normal" fill="#111" >+6 kb</text>
<text transform="translate(405.65,383.60) scale(1,1.0)" font-size="9.4" text-anchor="middle" font-weight="normal" font-style="italic" fill="#111" >Abcb10</text>
<text transform="translate(405.45,394.90) scale(1,1.03)" font-size="9.4" text-anchor="middle" font-weight="normal" font-style="normal" fill="#111" >-6 kb</text>
<text transform="translate(443.10,383.60) scale(1,1.0)" font-size="9.4" text-anchor="middle" font-weight="normal" font-style="italic" fill="#111" >Alad</text>
<text transform="translate(442.90,394.90) scale(1,1.03)" font-size="9.4" text-anchor="middle" font-weight="normal" font-style="normal" fill="#111" >+4 kb</text>
<text transform="translate(480.55,383.60) scale(1,1.0)" font-size="9.4" text-anchor="middle" font-weight="normal" font-style="italic" fill="#111" >Kit</text>
<text transform="translate(480.35,394.90) scale(1,1.03)" font-size="9.4" text-anchor="middle" font-weight="normal" font-style="normal" fill="#111" >+33 kb</text>
</svg></body></html>
